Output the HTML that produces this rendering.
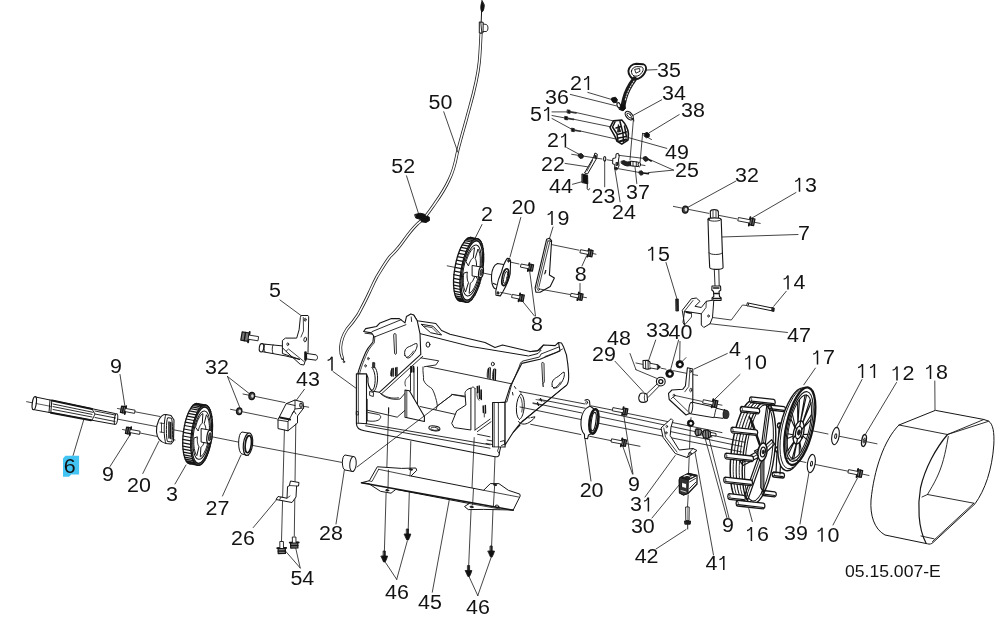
<!DOCTYPE html>
<html><head><meta charset="utf-8"><title>Parts diagram</title>
<style>
html,body{margin:0;padding:0;background:#fff;}
svg{display:block;font-family:"Liberation Sans",sans-serif;}
svg text{fill:#111;stroke:none;}
</style></head><body>
<svg width="1007" height="629" viewBox="0 0 1007 629" fill="none" stroke="#151515" stroke-width="0.9" stroke-linecap="round" stroke-linejoin="round">
<rect x="0" y="0" width="1007" height="629" fill="#fff" stroke="none"/>
<g id="labels" stroke="#fff" stroke-width="0.35" opacity="0.99">
<path d="M65.3,455.8 L79.1,455.8 L79.1,474.6 L71.3,474.6 L69,476.8 L63,476.8 L63,458.4 Z" fill="#41c4f3" stroke="none"/>
<text x="389.64" y="108.75" font-size="19.5" transform="scale(1.1,1)">5</text>
<text x="400.45" y="108.75" font-size="19.5" transform="scale(1.1,1)">0</text>
<text x="355.73" y="173.20" font-size="19.5" transform="scale(1.1,1)">5</text>
<text x="366.55" y="173.20" font-size="19.5" transform="scale(1.1,1)">2</text>
<text x="597.36" y="77.00" font-size="19.5" transform="scale(1.1,1)">3</text>
<text x="608.18" y="77.00" font-size="19.5" transform="scale(1.1,1)">5</text>
<text x="518.27" y="90.00" font-size="19.5" transform="scale(1.1,1)">2</text>
<path d="M588.40,90.00 L588.40,76.10" stroke="#111" stroke-width="1.5" stroke-linecap="butt" fill="none"/>
<path d="M584.00,79.70 C586.00,79.40 587.40,78.00 588.10,76.10" stroke="#111" stroke-width="1.25" stroke-linecap="butt" fill="none"/>
<text x="495.55" y="103.75" font-size="19.5" transform="scale(1.1,1)">3</text>
<text x="506.36" y="103.75" font-size="19.5" transform="scale(1.1,1)">6</text>
<text x="601.91" y="100.00" font-size="19.5" transform="scale(1.1,1)">3</text>
<text x="612.73" y="100.00" font-size="19.5" transform="scale(1.1,1)">4</text>
<text x="481.91" y="121.00" font-size="19.5" transform="scale(1.1,1)">5</text>
<path d="M548.40,121.00 L548.40,107.10" stroke="#111" stroke-width="1.5" stroke-linecap="butt" fill="none"/>
<path d="M544.00,110.70 C546.00,110.40 547.40,109.00 548.10,107.10" stroke="#111" stroke-width="1.25" stroke-linecap="butt" fill="none"/>
<text x="619.18" y="117.50" font-size="19.5" transform="scale(1.1,1)">3</text>
<text x="630.00" y="117.50" font-size="19.5" transform="scale(1.1,1)">8</text>
<text x="497.36" y="147.50" font-size="19.5" transform="scale(1.1,1)">2</text>
<path d="M565.40,147.50 L565.40,133.60" stroke="#111" stroke-width="1.5" stroke-linecap="butt" fill="none"/>
<path d="M561.00,137.20 C563.00,136.90 564.40,135.50 565.10,133.60" stroke="#111" stroke-width="1.25" stroke-linecap="butt" fill="none"/>
<text x="604.64" y="158.75" font-size="19.5" transform="scale(1.1,1)">4</text>
<text x="615.45" y="158.75" font-size="19.5" transform="scale(1.1,1)">9</text>
<text x="491.91" y="171.00" font-size="19.5" transform="scale(1.1,1)">2</text>
<text x="502.73" y="171.00" font-size="19.5" transform="scale(1.1,1)">2</text>
<text x="613.73" y="176.75" font-size="19.5" transform="scale(1.1,1)">2</text>
<text x="624.55" y="176.75" font-size="19.5" transform="scale(1.1,1)">5</text>
<text x="499.18" y="193.00" font-size="19.5" transform="scale(1.1,1)">4</text>
<text x="510.00" y="193.00" font-size="19.5" transform="scale(1.1,1)">4</text>
<text x="537.82" y="203.00" font-size="19.5" transform="scale(1.1,1)">2</text>
<text x="548.64" y="203.00" font-size="19.5" transform="scale(1.1,1)">3</text>
<text x="569.18" y="198.75" font-size="19.5" transform="scale(1.1,1)">3</text>
<text x="580.00" y="198.75" font-size="19.5" transform="scale(1.1,1)">7</text>
<text x="556.45" y="218.75" font-size="19.5" transform="scale(1.1,1)">2</text>
<text x="567.27" y="218.75" font-size="19.5" transform="scale(1.1,1)">4</text>
<text x="668.27" y="182.50" font-size="19.5" transform="scale(1.1,1)">3</text>
<text x="679.09" y="182.50" font-size="19.5" transform="scale(1.1,1)">2</text>
<path d="M799.50,191.75 L799.50,177.85" stroke="#111" stroke-width="1.5" stroke-linecap="butt" fill="none"/>
<path d="M795.10,181.45 C797.10,181.15 798.50,179.75 799.20,177.85" stroke="#111" stroke-width="1.25" stroke-linecap="butt" fill="none"/>
<text x="731.82" y="191.75" font-size="19.5" transform="scale(1.1,1)">3</text>
<text x="437.36" y="221.00" font-size="19.5" transform="scale(1.1,1)">2</text>
<text x="465.09" y="214.00" font-size="19.5" transform="scale(1.1,1)">2</text>
<text x="475.91" y="214.00" font-size="19.5" transform="scale(1.1,1)">0</text>
<path d="M552.00,225.00 L552.00,211.10" stroke="#111" stroke-width="1.5" stroke-linecap="butt" fill="none"/>
<path d="M547.60,214.70 C549.60,214.40 551.00,213.00 551.70,211.10" stroke="#111" stroke-width="1.25" stroke-linecap="butt" fill="none"/>
<text x="506.82" y="225.00" font-size="19.5" transform="scale(1.1,1)">9</text>
<text x="725.55" y="240.50" font-size="19.5" transform="scale(1.1,1)">7</text>
<path d="M652.50,260.75 L652.50,246.85" stroke="#111" stroke-width="1.5" stroke-linecap="butt" fill="none"/>
<path d="M648.10,250.45 C650.10,250.15 651.50,248.75 652.20,246.85" stroke="#111" stroke-width="1.25" stroke-linecap="butt" fill="none"/>
<text x="598.18" y="260.75" font-size="19.5" transform="scale(1.1,1)">5</text>
<text x="522.59" y="281.00" font-size="19.5" transform="scale(1.1,1)">8</text>
<path d="M788.00,289.50 L788.00,275.60" stroke="#111" stroke-width="1.5" stroke-linecap="butt" fill="none"/>
<path d="M783.60,279.20 C785.60,278.90 787.00,277.50 787.70,275.60" stroke="#111" stroke-width="1.25" stroke-linecap="butt" fill="none"/>
<text x="721.36" y="289.50" font-size="19.5" transform="scale(1.1,1)">4</text>
<text x="244.64" y="297.50" font-size="19.5" transform="scale(1.1,1)">5</text>
<text x="482.82" y="331.00" font-size="19.5" transform="scale(1.1,1)">8</text>
<text x="551.91" y="345.50" font-size="19.5" transform="scale(1.1,1)">4</text>
<text x="562.73" y="345.50" font-size="19.5" transform="scale(1.1,1)">8</text>
<text x="587.36" y="337.50" font-size="19.5" transform="scale(1.1,1)">3</text>
<text x="598.18" y="337.50" font-size="19.5" transform="scale(1.1,1)">3</text>
<text x="607.82" y="338.75" font-size="19.5" transform="scale(1.1,1)">4</text>
<text x="618.64" y="338.75" font-size="19.5" transform="scale(1.1,1)">0</text>
<text x="715.55" y="341.75" font-size="19.5" transform="scale(1.1,1)">4</text>
<text x="726.36" y="341.75" font-size="19.5" transform="scale(1.1,1)">7</text>
<text x="538.27" y="360.75" font-size="19.5" transform="scale(1.1,1)">2</text>
<text x="549.09" y="360.75" font-size="19.5" transform="scale(1.1,1)">9</text>
<text x="662.82" y="356.00" font-size="19.5" transform="scale(1.1,1)">4</text>
<path d="M749.50,369.50 L749.50,355.60" stroke="#111" stroke-width="1.5" stroke-linecap="butt" fill="none"/>
<path d="M745.10,359.20 C747.10,358.90 748.50,357.50 749.20,355.60" stroke="#111" stroke-width="1.25" stroke-linecap="butt" fill="none"/>
<text x="686.36" y="369.50" font-size="19.5" transform="scale(1.1,1)">0</text>
<path d="M817.50,364.50 L817.50,350.60" stroke="#111" stroke-width="1.5" stroke-linecap="butt" fill="none"/>
<path d="M813.10,354.20 C815.10,353.90 816.50,352.50 817.20,350.60" stroke="#111" stroke-width="1.25" stroke-linecap="butt" fill="none"/>
<text x="748.18" y="364.50" font-size="19.5" transform="scale(1.1,1)">7</text>
<text x="100.09" y="372.70" font-size="19.5" transform="scale(1.1,1)">9</text>
<text x="186.45" y="373.75" font-size="19.5" transform="scale(1.1,1)">3</text>
<text x="197.27" y="373.75" font-size="19.5" transform="scale(1.1,1)">2</text>
<path d="M332.00,370.75 L332.00,356.85" stroke="#111" stroke-width="1.5" stroke-linecap="butt" fill="none"/>
<path d="M327.60,360.45 C329.60,360.15 331.00,358.75 331.70,356.85" stroke="#111" stroke-width="1.25" stroke-linecap="butt" fill="none"/>
<text x="269.18" y="386.25" font-size="19.5" transform="scale(1.1,1)">4</text>
<text x="280.00" y="386.25" font-size="19.5" transform="scale(1.1,1)">3</text>
<path d="M862.50,378.00 L862.50,364.10" stroke="#111" stroke-width="1.5" stroke-linecap="butt" fill="none"/>
<path d="M858.10,367.70 C860.10,367.40 861.50,366.00 862.20,364.10" stroke="#111" stroke-width="1.25" stroke-linecap="butt" fill="none"/>
<path d="M874.40,378.00 L874.40,364.10" stroke="#111" stroke-width="1.5" stroke-linecap="butt" fill="none"/>
<path d="M870.00,367.70 C872.00,367.40 873.40,366.00 874.10,364.10" stroke="#111" stroke-width="1.25" stroke-linecap="butt" fill="none"/>
<path d="M897.00,380.50 L897.00,366.60" stroke="#111" stroke-width="1.5" stroke-linecap="butt" fill="none"/>
<path d="M892.60,370.20 C894.60,369.90 896.00,368.50 896.70,366.60" stroke="#111" stroke-width="1.25" stroke-linecap="butt" fill="none"/>
<text x="820.45" y="380.50" font-size="19.5" transform="scale(1.1,1)">2</text>
<path d="M930.50,379.00 L930.50,365.10" stroke="#111" stroke-width="1.5" stroke-linecap="butt" fill="none"/>
<path d="M926.10,368.70 C928.10,368.40 929.50,367.00 930.20,365.10" stroke="#111" stroke-width="1.25" stroke-linecap="butt" fill="none"/>
<text x="850.91" y="379.00" font-size="19.5" transform="scale(1.1,1)">8</text>
<text x="92.82" y="481.25" font-size="19.5" transform="scale(1.1,1)">9</text>
<text x="115.55" y="492.00" font-size="19.5" transform="scale(1.1,1)">2</text>
<text x="126.36" y="492.00" font-size="19.5" transform="scale(1.1,1)">0</text>
<text x="151.00" y="500.75" font-size="19.5" transform="scale(1.1,1)">3</text>
<text x="186.91" y="515.00" font-size="19.5" transform="scale(1.1,1)">2</text>
<text x="197.73" y="515.00" font-size="19.5" transform="scale(1.1,1)">7</text>
<text x="210.09" y="545.00" font-size="19.5" transform="scale(1.1,1)">2</text>
<text x="220.91" y="545.00" font-size="19.5" transform="scale(1.1,1)">6</text>
<text x="290.09" y="540.40" font-size="19.5" transform="scale(1.1,1)">2</text>
<text x="300.91" y="540.40" font-size="19.5" transform="scale(1.1,1)">8</text>
<text x="264.00" y="585.30" font-size="19.5" transform="scale(1.1,1)">5</text>
<text x="274.82" y="585.30" font-size="19.5" transform="scale(1.1,1)">4</text>
<text x="350.09" y="598.75" font-size="19.5" transform="scale(1.1,1)">4</text>
<text x="360.91" y="598.75" font-size="19.5" transform="scale(1.1,1)">6</text>
<text x="380.09" y="609.30" font-size="19.5" transform="scale(1.1,1)">4</text>
<text x="390.91" y="609.30" font-size="19.5" transform="scale(1.1,1)">5</text>
<text x="423.73" y="614.40" font-size="19.5" transform="scale(1.1,1)">4</text>
<text x="434.55" y="614.40" font-size="19.5" transform="scale(1.1,1)">6</text>
<text x="527.00" y="497.00" font-size="19.5" transform="scale(1.1,1)">2</text>
<text x="537.82" y="497.00" font-size="19.5" transform="scale(1.1,1)">0</text>
<text x="571.00" y="491.00" font-size="19.5" transform="scale(1.1,1)">9</text>
<text x="572.82" y="511.50" font-size="19.5" transform="scale(1.1,1)">3</text>
<path d="M648.40,511.50 L648.40,497.60" stroke="#111" stroke-width="1.5" stroke-linecap="butt" fill="none"/>
<path d="M644.00,501.20 C646.00,500.90 647.40,499.50 648.10,497.60" stroke="#111" stroke-width="1.25" stroke-linecap="butt" fill="none"/>
<text x="573.55" y="532.80" font-size="19.5" transform="scale(1.1,1)">3</text>
<text x="584.36" y="532.80" font-size="19.5" transform="scale(1.1,1)">0</text>
<text x="577.00" y="563.50" font-size="19.5" transform="scale(1.1,1)">4</text>
<text x="587.82" y="563.50" font-size="19.5" transform="scale(1.1,1)">2</text>
<text x="641.36" y="570.00" font-size="19.5" transform="scale(1.1,1)">4</text>
<path d="M723.80,570.00 L723.80,556.10" stroke="#111" stroke-width="1.5" stroke-linecap="butt" fill="none"/>
<path d="M719.40,559.70 C721.40,559.40 722.80,558.00 723.50,556.10" stroke="#111" stroke-width="1.25" stroke-linecap="butt" fill="none"/>
<text x="656.27" y="532.30" font-size="19.5" transform="scale(1.1,1)">9</text>
<path d="M751.40,541.00 L751.40,527.10" stroke="#111" stroke-width="1.5" stroke-linecap="butt" fill="none"/>
<path d="M747.00,530.70 C749.00,530.40 750.40,529.00 751.10,527.10" stroke="#111" stroke-width="1.25" stroke-linecap="butt" fill="none"/>
<text x="688.09" y="541.00" font-size="19.5" transform="scale(1.1,1)">6</text>
<text x="712.82" y="540.00" font-size="19.5" transform="scale(1.1,1)">3</text>
<text x="723.64" y="540.00" font-size="19.5" transform="scale(1.1,1)">9</text>
<path d="M822.00,541.75 L822.00,527.85" stroke="#111" stroke-width="1.5" stroke-linecap="butt" fill="none"/>
<path d="M817.60,531.45 C819.60,531.15 821.00,529.75 821.70,527.85" stroke="#111" stroke-width="1.25" stroke-linecap="butt" fill="none"/>
<text x="752.27" y="541.75" font-size="19.5" transform="scale(1.1,1)">0</text>
<text x="768.18" y="576.60" font-size="16" transform="scale(1.1,1)">05.15.007-E</text>
</g>
<g stroke="#41c4f3" stroke-width="0.35" opacity="0.99">
<text x="57.91" y="472.70" font-size="19.5" transform="scale(1.1,1)">6</text>
</g>
<g id="leaders" stroke-width="0.8">
<line x1="83.8" y1="419.6" x2="73.1" y2="455.4"/>
<line x1="120" y1="374.5" x2="125.6" y2="410.7"/>
<line x1="130" y1="435" x2="110" y2="466.5"/>
<line x1="158.75" y1="441.5" x2="142.8" y2="473.5"/>
<line x1="186" y1="465" x2="175" y2="484"/>
<line x1="241" y1="455" x2="222.5" y2="496"/>
<line x1="227.5" y1="376.5" x2="249.3" y2="393.6"/>
<line x1="227.5" y1="376.5" x2="240" y2="408"/>
<line x1="304.4" y1="389.3" x2="296.5" y2="400"/>
<line x1="253.2" y1="527.6" x2="276.3" y2="500"/>
<line x1="300.2" y1="568" x2="284.7" y2="550.2"/>
<line x1="300.2" y1="568" x2="295.4" y2="546.7"/>
<line x1="336" y1="524" x2="344.3" y2="470.3"/>
<line x1="280" y1="300" x2="301" y2="315.5"/>
</g>
<g id="leftasm">
<line x1="26.6" y1="401.7" x2="32" y2="402.7" stroke-width="0.8"/>
<line x1="117" y1="419" x2="160" y2="427.2" stroke-width="0.8"/>
<line x1="173" y1="429.7" x2="188" y2="432.5" stroke-width="0.8"/>
<line x1="213" y1="437" x2="239" y2="442.2" stroke-width="0.8"/>
<line x1="253" y1="445.5" x2="345" y2="463" stroke-width="0.8"/>
<line x1="117.5" y1="408.5" x2="160" y2="416.5" stroke-width="0.8"/>
<line x1="122.5" y1="429.5" x2="175" y2="440" stroke-width="0.8"/>
<path d="M35.5,397 L115.5,413.6 L114.9,424.4 L33.1,409.5 Z" fill="#fff" stroke-width="1.0"/>
<ellipse cx="34.3" cy="403.2" rx="2.0" ry="6.6" transform="rotate(8 34.3 403.2)" fill="#fff" stroke-width="1.2"/>
<ellipse cx="116" cy="419" rx="1.6" ry="5.4" transform="rotate(8 116 419)" fill="#fff" stroke-width="1.0"/>
<path d="M50,400 L49,412.4 M51.8,400.4 L50.8,412.8" fill="none" stroke-width="1.0"/>
<path d="M52,400.6 L92,409 M51,412.8 L91,420.2" fill="none" stroke-width="2.0"/>
<path d="M53,404 L93,412.3 M53,406.6 L92,414.4 M53,409.5 L92,417" fill="none" stroke-width="0.9"/>
<path d="M92,409 L95,414 L92,420.3 M95,411 L115,415 M95,414 L115.6,418 M95,417.5 L115,421.5" fill="none" stroke-width="0.9"/>
<line x1="36" y1="403.5" x2="51" y2="406.4" stroke-width="0.7"/>
<path d="M120.4,412.3 L124.8,413.2 L126.0,406.9 L121.6,406.1 Z" fill="#777" stroke-width="1.2"/>
<path d="M122.4,412.7 L123.6,406.4" stroke-width="1.4"/>
<path d="M124.7,414.0 L126.2,406.1" stroke-width="1.8"/>
<path d="M125.1,411.6 L134.5,413.4 L135.1,410.2 L125.7,408.5" fill="#fff" stroke-width="0.9"/>
<path d="M125.4,433.3 L129.8,434.2 L131.0,427.9 L126.6,427.1 Z" fill="#777" stroke-width="1.2"/>
<path d="M127.4,433.7 L128.6,427.4" stroke-width="1.4"/>
<path d="M129.7,435.0 L131.2,427.1" stroke-width="1.8"/>
<path d="M130.1,432.6 L139.5,434.4 L140.1,431.2 L130.7,429.5" fill="#fff" stroke-width="0.9"/>
<path d="M166,414.5 C160,414 156,424 156.5,432 C157,438 160,442 166,443.5 L171,444 L173.5,441 L174,420 L171,415.5 Z" fill="#fff" stroke-width="1.1"/>
<path d="M166,414.5 C163.5,418 163.5,440 166,443.5" fill="none" stroke-width="1.0"/>
<path d="M167.5,418 C166,420 166,439 167.5,441.5 L171.5,442 C173,440 173,421 171.5,418.5 Z" fill="#fff" stroke-width="1.0"/>
<path d="M169,422 L169,438 M170.8,422.5 L170.8,438.5" fill="none" stroke-width="1.5"/>
<path d="M160,423 L163.5,423.5 M160,432 L163.5,432.5 M161.5,423 L161.5,432" fill="none" stroke-width="0.8"/>
<ellipse cx="193.6" cy="433.7" rx="10.3" ry="30.4" transform="rotate(7 193.6 433.7)" fill="#fff" stroke-width="1.3"/>
<path d="M203.8,435.0L211.8,436.5M203.3,438.4L211.3,439.9M202.7,441.9L210.7,443.4M201.9,445.2L209.9,446.7M201.1,448.4L209.1,449.9M200.1,451.3L208.1,452.8M199.1,454.1L207.1,455.6M197.9,456.5L205.9,458.0M196.7,458.7L204.7,460.2M195.5,460.5L203.5,462.0M194.2,461.9L202.2,463.4M193.0,463.0L201.0,464.5M191.7,463.6L199.7,465.1M190.5,463.9L198.5,465.4M189.3,463.7L197.3,465.2M188.2,463.2L196.2,464.7M187.1,462.2L195.1,463.7M186.1,460.9L194.1,462.4M185.3,459.2L193.3,460.7M184.5,457.2L192.5,458.7M183.9,454.8L191.9,456.3M183.4,452.1L191.4,453.6M183.0,449.2L191.0,450.7M182.8,446.1L190.8,447.6M182.7,442.8L190.7,444.3M182.8,439.4L190.8,440.9M183.0,436.0L191.0,437.5M183.4,432.4L191.4,433.9M183.9,429.0L191.9,430.5M184.5,425.5L192.5,427.0M185.3,422.2L193.3,423.7M186.1,419.0L194.1,420.5M187.1,416.1L195.1,417.6M188.1,413.3L196.1,414.8M189.3,410.9L197.3,412.4M190.5,408.7L198.5,410.2M191.7,406.9L199.7,408.4M193.0,405.5L201.0,407.0M194.2,404.4L202.2,405.9M195.5,403.8L203.5,405.3M196.7,403.5L204.7,405.0M197.9,403.7L205.9,405.2M199.0,404.2L207.0,405.7M200.1,405.2L208.1,406.7M201.1,406.5L209.1,408.0M201.9,408.2L209.9,409.7M202.7,410.2L210.7,411.7M203.3,412.6L211.3,414.1M203.8,415.3L211.8,416.8M204.2,418.2L212.2,419.7M204.4,421.3L212.4,422.8M204.5,424.6L212.5,426.1M204.4,428.0L212.4,429.5M204.2,431.4L212.2,432.9" stroke-width="1.25"/>
<ellipse cx="201.6" cy="435.2" rx="10.3" ry="30.4" transform="rotate(7 201.6 435.2)" fill="#fff" stroke-width="1.4"/>
<path d="M210.8,436.3L211.8,436.5M210.3,439.6L211.3,439.9M209.8,442.8L210.7,443.4M209.1,445.9L209.9,446.7M208.3,448.8L209.1,449.9M207.4,451.6L208.1,452.8M206.4,454.1L207.1,455.6M205.4,456.4L205.9,458.0M204.3,458.4L204.7,460.2M203.2,460.1L203.5,462.0M202.1,461.4L202.2,463.4M200.9,462.4L201.0,464.5M199.8,463.0L199.7,465.1M198.7,463.3L198.5,465.4M197.6,463.1L197.3,465.2M196.6,462.6L196.2,464.7M195.7,461.8L195.1,463.7M194.8,460.5L194.1,462.4M194.0,458.9L193.3,460.7M193.3,457.0L192.5,458.7M192.8,454.8L191.9,456.3M192.3,452.4L191.4,453.6M192.0,449.7L191.0,450.7M191.8,446.8L190.8,447.6M191.8,443.7L190.7,444.3M191.9,440.6L190.8,440.9M192.1,437.3L191.0,437.5M192.4,434.1L191.4,433.9M192.9,430.8L191.9,430.5M193.4,427.6L192.5,427.0M194.1,424.5L193.3,423.7M194.9,421.6L194.1,420.5M195.8,418.8L195.1,417.6M196.8,416.3L196.1,414.8M197.8,414.0L197.3,412.4M198.9,412.0L198.5,410.2M200.0,410.3L199.7,408.4M201.1,409.0L201.0,407.0M202.3,408.0L202.2,405.9M203.4,407.4L203.5,405.3M204.5,407.1L204.7,405.0M205.6,407.3L205.9,405.2M206.6,407.8L207.0,405.7M207.5,408.6L208.1,406.7M208.4,409.9L209.1,408.0M209.2,411.5L209.9,409.7M209.9,413.4L210.7,411.7M210.4,415.6L211.3,414.1M210.9,418.0L211.8,416.8M211.2,420.7L212.2,419.7M211.4,423.6L212.4,422.8M211.4,426.7L212.5,426.1M211.3,429.8L212.4,429.5M211.1,433.1L212.2,432.9" stroke-width="0.9"/>
<ellipse cx="201.6" cy="435.2" rx="9.270000000000001" ry="28.272" transform="rotate(7 201.6 435.2)" stroke-width="1.2"/>
<ellipse cx="201.6" cy="435.2" rx="8.24" ry="24.32" transform="rotate(7 201.6 435.2)" stroke-width="1.0"/>
<path d="M207.6,443.5 L207.0,445.5 L206.4,447.5 L205.8,449.3 L205.0,450.9 L204.3,452.4 L203.5,453.7 L202.7,454.8 L201.9,455.7 L201.1,456.3 L200.3,456.8 L200.9,447.2 L201.3,446.9 L201.8,446.6 L202.2,446.1 L202.7,445.5 L203.1,444.8 L203.5,443.9 L203.9,443.0 L204.3,442.0 L204.6,440.9 L204.9,439.8 Z" fill="#fff" stroke-width="1.0"/>
<path d="M196.6,455.3 L196.0,454.3 L195.4,453.1 L195.0,451.8 L194.6,450.2 L194.2,448.5 L194.0,446.6 L193.8,444.6 L193.8,442.5 L193.8,440.3 L193.9,438.1 L197.3,436.8 L197.3,438.0 L197.3,439.3 L197.3,440.4 L197.4,441.5 L197.5,442.6 L197.7,443.5 L197.9,444.4 L198.2,445.2 L198.5,445.8 L198.8,446.4 Z" fill="#fff" stroke-width="1.0"/>
<path d="M195.6,426.9 L196.2,424.9 L196.8,422.9 L197.4,421.1 L198.2,419.5 L198.9,418.0 L199.7,416.7 L200.5,415.6 L201.3,414.7 L202.1,414.1 L202.9,413.6 L202.3,423.2 L201.9,423.5 L201.4,423.8 L201.0,424.3 L200.5,424.9 L200.1,425.6 L199.7,426.5 L199.3,427.4 L198.9,428.4 L198.6,429.5 L198.3,430.6 Z" fill="#fff" stroke-width="1.0"/>
<path d="M206.6,415.1 L207.2,416.1 L207.8,417.3 L208.2,418.6 L208.6,420.2 L209.0,421.9 L209.2,423.8 L209.4,425.8 L209.4,427.9 L209.4,430.1 L209.3,432.3 L205.9,433.6 L205.9,432.4 L205.9,431.1 L205.9,430.0 L205.8,428.9 L205.7,427.8 L205.5,426.9 L205.3,426.0 L205.0,425.2 L204.7,424.6 L204.4,424.0 Z" fill="#fff" stroke-width="1.0"/>
<path d="M201.5,428.6 L209.5,430.1 L209.5,443.6 L201.5,442.1 Z" fill="#fff" stroke-width="1.0"/>
<ellipse cx="209.5" cy="436.8" rx="2.6" ry="6.8" transform="rotate(7 209.5 436.8)" fill="#fff" stroke-width="1.3"/>
<ellipse cx="209.8" cy="436.8" rx="1.3" ry="4.2" transform="rotate(7 209.8 436.8)" fill="#555" stroke-width="0.8"/>
<path d="M248,433 L242,432 C237.5,433 237.5,453 242,454 L248,455.5 Z" fill="#fff" stroke-width="1.0"/>
<ellipse cx="248" cy="444.2" rx="4.6" ry="11.3" transform="rotate(7 248 444.2)" fill="#fff" stroke-width="1.2"/>
<ellipse cx="248.3" cy="444.2" rx="3.0" ry="8.6" transform="rotate(7 248.3 444.2)" fill="#fff" stroke-width="1.6"/>
<line x1="243" y1="394" x2="249" y2="395.2" stroke-width="0.8"/>
<line x1="255" y1="396.4" x2="285" y2="402.6" stroke-width="0.8"/>
<line x1="230.5" y1="409.3" x2="236" y2="410.4" stroke-width="0.8"/>
<line x1="242.5" y1="411.8" x2="277" y2="418.8" stroke-width="0.8"/>
<ellipse cx="251.8" cy="396" rx="2.9" ry="3.6" fill="#444" stroke-width="1.2" transform="rotate(8 251.8 396)"/>
<ellipse cx="252.4" cy="396" rx="1.3" ry="1.8" fill="#ddd" stroke="none"/>
<ellipse cx="239.2" cy="411.3" rx="2.7" ry="3.4" fill="#444" stroke-width="1.2" transform="rotate(8 239.2 411.3)"/>
<ellipse cx="239.79999999999998" cy="411.3" rx="1.2" ry="1.7" fill="#ddd" stroke="none"/>
<path d="M286.5,403.6 L295,400 L303,402.2 L303.7,408 L297.5,416 L297.5,423 L288,430.8 L278,428.6 L278,420 Z" fill="#fff" stroke-width="1.0"/>
<path d="M278,420 L288,421.6 L288,430.8 M288,421.6 L295,409 L295,400 M286.5,403.6 L295,405.5 M295,409 L303.7,408" fill="none" stroke-width="0.9"/>
<ellipse cx="301" cy="405.2" rx="1.2" ry="2.2" transform="rotate(0 301 405.2)" fill="#fff" stroke-width="1.2"/>
<path d="M280,417.5 L290,419.5" fill="none" stroke-width="2.2"/>
<path d="M292,414 L294,411 L296,414" fill="none" stroke-width="0.9"/>
<line x1="303.7" y1="406.3" x2="308.7" y2="407.2" stroke-width="0.8"/>
<line x1="284.4" y1="430" x2="281.5" y2="541" stroke-width="0.8"/>
<line x1="295.8" y1="424" x2="294.3" y2="536" stroke-width="0.8"/>
<path d="M289.4,485.5 L290.5,481 L299,482.5 L298.5,486 L296.6,486 L296,497 L292,502.5 L276,499.5 L278,496.5 L287,498.2 L287.5,487 Z" fill="#fff" stroke-width="1.0"/>
<path d="M289.4,485.5 L296.6,486 M287,498.2 L290,496 M281,497 L279.5,500" fill="none" stroke-width="0.8"/>
<path d="M285.4,553.4 L285.3,547.9 L278.1,548.1 L278.2,553.6 Z" fill="#777" stroke-width="1.2"/>
<path d="M285.3,551.0 L278.2,551.1" stroke-width="1.4"/>
<path d="M286.2,547.9 L277.2,548.1" stroke-width="1.8"/>
<path d="M283.5,548.0 L283.4,541.5 L279.8,541.5 L279.9,548.0" fill="#fff" stroke-width="0.9"/>
<path d="M297.9,547.9 L297.8,542.4 L290.6,542.6 L290.7,548.1 Z" fill="#777" stroke-width="1.2"/>
<path d="M297.8,545.5 L290.7,545.6" stroke-width="1.4"/>
<path d="M298.7,542.4 L289.7,542.6" stroke-width="1.8"/>
<path d="M296.0,542.5 L295.9,537.0 L292.3,537.0 L292.4,542.5" fill="#fff" stroke-width="0.9"/>
<path d="M353,456.5 L345,455 C341.5,456 341.5,469 345,470 L353,471.5 Z" fill="#fff" stroke-width="1.0"/>
<ellipse cx="353" cy="464" rx="3.2" ry="7.5" transform="rotate(5 353 464)" fill="#fff" stroke-width="1.0"/>
<path d="M301.5,315.5 L308,315.5 L308.7,316.7 L308,352.4 L303.9,365 L300.3,364.4 L286,351.3 L282.4,347.7 L282.4,340.5 L285.4,338.1 L296.7,338.1 L299.1,329.8 L300.3,317.9 Z" fill="#fff" stroke-width="1.0"/>
<path d="M303.3,317.5 L303.5,331 L301,337 M286,351.3 L288.5,349 L304,361.5" fill="none" stroke-width="0.8"/>
<ellipse cx="305.2" cy="319.7" rx="0.9" ry="1.5" transform="rotate(0 305.2 319.7)" fill="none" stroke-width="0.9"/>
<ellipse cx="305.2" cy="339.5" rx="1.3" ry="2.4" transform="rotate(10 305.2 339.5)" fill="none" stroke-width="0.9"/>
<ellipse cx="287.8" cy="344.2" rx="0.9" ry="1.4" transform="rotate(0 287.8 344.2)" fill="none" stroke-width="0.9"/>
<path d="M262.2,343.9 L282.4,345.9 L282.4,353.5 L300,359.5 L286,356 L260.4,351.3 Z" fill="#fff" stroke-width="1.0"/>
<ellipse cx="261.5" cy="347.8" rx="2.2" ry="4.2" transform="rotate(8 261.5 347.8)" fill="#fff" stroke-width="1.1"/>
<path d="M265,344.2 C263.5,346 263.8,350.5 265,352.1 M273,345 C271.8,347 272,351.5 273,353.5" fill="none" stroke-width="0.9"/>
<path d="M307,353.5 L316,354.8 C318,356 318,359 316,360.2 L307,359 Z" fill="#fff" stroke-width="1.0"/>
<path d="M305.5,352.6 L305.5,359.5" fill="none" stroke-width="2.6"/>
<path d="M240.8,340.1 L248.2,341.3 L249.6,333.0 L242.2,331.9 Z" fill="#777" stroke-width="1.2"/>
<path d="M244.2,340.7 L245.5,332.4" stroke-width="1.4"/>
<path d="M248.1,342.4 L249.7,332.0" stroke-width="1.8"/>
<path d="M248.6,339.3 L258.0,340.8 L258.6,336.6 L249.2,335.1" fill="#fff" stroke-width="0.9"/>
</g>
<g id="cable">
<path d="M481,34 C480.5,45 480,55 479.3,62 C477,85 470,105 466.5,119 C462,135 458.5,147 457,154 C455,165 453,172 449,180 C444,191 438,199 433.4,205.6 C430,210.5 427,214.5 425.4,216.5 C422,220.5 419,222.5 417.5,223.8 C408,233 404,241 398,248 C394,253 392,254.5 390,256.5 C385,263 381,270 377,276.5 C373,284 371,289 369.3,292.5 C365,302 361,309 358,314.7 C354,321 351,324.5 347,329 C343,335 341,341 340.6,347.5 C340.5,352 341.5,356 342.6,358.5" stroke-width="3.1" stroke="#222"/>
<path d="M481,34 C480.5,45 480,55 479.3,62 C477,85 470,105 466.5,119 C462,135 458.5,147 457,154 C455,165 453,172 449,180 C444,191 438,199 433.4,205.6 C430,210.5 427,214.5 425.4,216.5 C422,220.5 419,222.5 417.5,223.8 C408,233 404,241 398,248 C394,253 392,254.5 390,256.5 C385,263 381,270 377,276.5 C373,284 371,289 369.3,292.5 C365,302 361,309 358,314.7 C354,321 351,324.5 347,329 C343,335 341,341 340.6,347.5 C340.5,352 341.5,356 342.6,358.5" stroke-width="1.5" stroke="#fff"/>
<path d="M482,0 L481.2,22" fill="none" stroke-width="1.0"/>
<path d="M482.2,1.5 C480.5,4 480.3,9 481.7,12 C483,12 484.3,9 484.2,5 Z" fill="#111" stroke-width="1.0"/>
<path d="M479.7,22 L483.2,22.3 L483,33 L479.7,33 Z" fill="#fff" stroke-width="1.0"/>
<path d="M483.2,24 L486.5,24.5 C488.5,25.5 488.5,30.5 486.5,31.5 L483,31.5 M480.8,22.5 L481.8,32.5" fill="none" stroke-width="0.9"/>
<path d="M415,214.5 L420,213.2 L424.5,214.2 L425.5,216 L429.2,217 L429.5,220.5 L426,222.5 L421.5,221.8 L420.5,219.5 L416,218 Z" fill="#111" stroke-width="1.0"/>
<line x1="342.8" y1="358.5" x2="343.8" y2="361" stroke-width="0.9"/>
<ellipse cx="343.9" cy="361.8" rx="0.8" ry="0.9" transform="rotate(0 343.9 361.8)" fill="none" stroke-width="0.8"/>
<line x1="443.75" y1="111.75" x2="457.8" y2="152" stroke-width="0.8"/>
<line x1="406.5" y1="175.8" x2="418.5" y2="213.5" stroke-width="0.8"/>
</g>
<g id="frame">
<line x1="333" y1="371.5" x2="356" y2="388.2" stroke-width="0.8"/>
<path d="M413.7,315 L417.2,320.7 L435.8,323.5 L441.6,330.5 L450,334.3 L485,342.5 L495,347.5 L502.5,345 L530,351.5 L537.5,351 L543.5,345 L555.2,345.6 L558.5,342.5" fill="none" stroke-width="1.1"/>
<path d="M420,333.6 L470,346.3 L528.5,356 L538,353.5 L541,350.3" fill="none" stroke-width="1.0"/>
<path d="M421.5,324.3 L433,326.2 L441.6,335 L431,332.8 Z" fill="none" stroke-width="1.0"/>
<path d="M424.5,326.3 L432,327.6 L437.5,333" fill="none" stroke-width="0.8"/>
<path d="M421,357.9 L438.7,360.8 L435.8,365 L424.4,366.7 M427.3,366.5 L512,383.9" fill="none" stroke-width="0.9"/>
<ellipse cx="428" cy="344.6" rx="1.9" ry="2.6" transform="rotate(0 428 344.6)" fill="none" stroke-width="1.0"/>
<ellipse cx="492.8" cy="364" rx="1.5" ry="1.8" transform="rotate(0 492.8 364)" fill="none" stroke-width="0.9"/>
<path d="M488.5,368.5 L488,378 M490.3,368 L490,378.5 M493.8,369.5 L493.5,379.5 M495.6,369.3 L495.3,380" fill="none" stroke-width="1.3"/>
<path d="M487.2,377 C487,371 488,368 489.5,367.3 M492.5,378.5 C492.3,372 493.3,369 494.8,368.6" fill="none" stroke-width="0.8"/>
<path d="M363.6,331.5 L365.7,328.6 L376.5,326.5 L380,322.9 L391.5,318.6 L399.4,318.6 L405,322.9 L406.5,316.4 L410.8,313.9 L413.7,315 L417.2,320.7 L420,333.6 L420.8,354.4 L379.3,392.3 L372,391 C369,388 367.5,383 368,378 L366.5,374 L357.9,373.7 C359,368 361,363 365.7,352.2 C368,347 371,344.5 372.9,342.2 L373.6,335.8 L371.5,332.9 Z" fill="#fff" stroke-width="1.1"/>
<path d="M372.1,331.6 L401.1,319.7 M374.3,337 L405.9,324.7 M365,333.2 L371.7,334 M411.2,317 L411.6,321.5" fill="none" stroke-width="0.9"/>
<path d="M374.9,336.5 L374.3,342.8 C372,345.5 369.5,348 367.2,353 C363,362.5 361,368 359.6,373.7" fill="none" stroke-width="0.8"/>
<path d="M422.7,356.3 L381.5,393.8" fill="none" stroke-width="0.9"/>
<path d="M394.5,333.6 C395.5,333.2 396,334 396,335 L396.4,353 C396.3,354.6 395,354.8 394.6,353.4 L393.7,335.5 Z" fill="none" stroke-width="0.9"/>
<path d="M405,355.5 C403.5,351 406,347.5 409.5,346.5 C412.5,345.5 415,343 416.8,343.6 C418,346 416,350.5 413,354 C410,358 407.5,360 405,355.5 Z" fill="none" stroke-width="1.0"/>
<path d="M406.5,357.5 C409,357 411.5,354 413.5,351" fill="none" stroke-width="0.8"/>
<ellipse cx="368.3" cy="358.6" rx="0.8" ry="1.2" transform="rotate(0 368.3 358.6)" fill="none" stroke-width="0.8"/>
<ellipse cx="365.5" cy="365.8" rx="0.8" ry="1.2" transform="rotate(0 365.5 365.8)" fill="none" stroke-width="0.8"/>
<path d="M391.8,369 L391.6,376 M393.3,368.5 L393.2,376.2 M395.6,367.8 L395.5,375.8 M397,367.5 L397,375.5" fill="none" stroke-width="1.3"/>
<path d="M390.6,375.5 C390.3,371.5 391.3,369 392.5,368" fill="none" stroke-width="0.8"/>
<path d="M373.5,366 C377,368 378.5,376 377,384 C376,389 374.5,391.5 373,392 M372,367.5 C375,371 376,379 374.5,386 C374,388.5 373,390 372,390.5" fill="none" stroke-width="1.0"/>
<path d="M373,362.5 L374.8,362.8 L374.6,368 L372.8,367.5 Z" fill="#333" stroke-width="0.8"/>
<path d="M370,391.5 L373.5,392.5 L373.3,396.5 L370,395.5 Z" fill="#fff" stroke-width="0.9"/>
<path d="M356.4,373.7 L366.5,374 L366.5,423.8 L356.4,423 Z" fill="#fff" stroke-width="1.1"/>
<path d="M358.3,374 L358.3,423.2" fill="none" stroke-width="0.8"/>
<path d="M356.6,411.5 L358.3,411.7 L358.3,415 L356.6,414.8 Z" fill="none" stroke-width="0.8"/>
<path d="M356.4,423 C356.3,427 358,429.8 364.3,430.8 L495,456.8 C498,457 499.8,456 499.3,453 L501,445.5 L513.5,431.8 L520,425" fill="none" stroke-width="1.1"/>
<path d="M365.7,423.6 L490,444.8 M365.7,425.8 L490,448.2" fill="none" stroke-width="0.9"/>
<path d="M499.3,453.5 L497.5,451 L499,447" fill="none" stroke-width="0.8"/>
<ellipse cx="434.4" cy="428.4" rx="5.6" ry="2.4" transform="rotate(8 434.4 428.4)" fill="none" stroke-width="1.0"/>
<ellipse cx="434.6" cy="428.8" rx="3.8" ry="1.5" transform="rotate(8 434.6 428.8)" fill="none" stroke-width="0.8"/>
<path d="M367.2,399.3 L367.2,420.8 M366.5,410 L397.2,417.2 L404.8,410.5" fill="none" stroke-width="0.9"/>
<path d="M368,412.5 L378.5,414.5 C381.5,415.5 381.5,418.5 378,420.3 C375,421.5 371,421.5 367.2,420.8" fill="none" stroke-width="0.9"/>
<path d="M379.5,392.5 C383,397 392,400.5 400,399 L404.8,393.5 M381.5,393.8 C385,397 392,399 398.5,397.8" fill="none" stroke-width="0.9"/>
<line x1="388.6" y1="408" x2="388.6" y2="413" stroke-width="0.8"/>
<path d="M405,390 L409.4,390.7 L424.4,416.5 L424.4,421.5 L405,417.2 Z" fill="#fff" stroke-width="1.1"/>
<path d="M406.8,390.4 L406.8,417.5" fill="none" stroke-width="0.8"/>
<path d="M410.5,366.5 L410.5,391 M417.5,367 L417.5,404 M414,368 L414,398" fill="none" stroke-width="0.9"/>
<path d="M411.5,366.5 L411.5,372 M413.5,366.5 L413.5,372" fill="none" stroke-width="1.6"/>
<path d="M405.5,386 C404,382 405.5,378.5 408.5,377 L410.3,374" fill="none" stroke-width="0.8"/>
<path d="M423,367 C422.5,372 424,377 423.5,380 C425,384 428,386 430.5,387.5 C433,389 433,391 434.5,394 C436,399 437,402 437.3,405.8 L435.8,410 L420,406.5" fill="none" stroke-width="0.9"/>
<path d="M437.5,405.8 L452.5,394.5 L466.3,396.3 M435.8,410 L465,416.5" fill="none" stroke-width="0.9"/>
<path d="M451.6,394.3 L470,397.9" fill="none" stroke-width="0.9"/>
<path d="M470,388.3 C466.5,389.5 465,391.5 465,393.4 L465.9,405 L456.7,410.9 L451.7,423.4 L454.2,427.6 L470.9,430 L470.9,388.5 Z" fill="#fff" stroke-width="1.0"/>
<path d="M475,388.5 L475,430 M470.9,388.5 C472,386.5 474,386.5 475,388.5" fill="none" stroke-width="0.9"/>
<path d="M477.3,386.5 L477.6,392.5 M479.2,386 L479.6,398.5 M481.2,390 L481.3,399.5" fill="none" stroke-width="1.5"/>
<path d="M483.2,406 L483.4,412.5 M485.3,405.5 L485.5,413" fill="none" stroke-width="1.5"/>
<path d="M477,392 C476.8,396.5 477.5,399 479,400.3 M484.3,413 L484.3,417" fill="none" stroke-width="0.8"/>
<path d="M475,430 L490,419.2 M477.6,434.3 L490,436.8 M477.3,431.6 L491,421.8" fill="none" stroke-width="0.9"/>
<path d="M492.6,402.5 L505.1,402.5 L505.1,447 L492.6,446.8 Z" fill="#fff" stroke-width="1.1"/>
<path d="M498.4,403 L498.4,447 M494.2,403 L494.2,446.8" fill="none" stroke-width="0.8"/>
<path d="M487,440 L492.5,441 M486,443.5 L492.5,444.5 M500.5,441.5 L504.5,440.5 L505,444 L501.5,445.5" fill="none" stroke-width="0.9"/>
<path d="M506.2,413.4 L509.3,412.6 L509.3,427.8 L506.2,428.6 Z M506.5,420.5 L509.3,419.8" fill="none" stroke-width="0.9"/>
<path d="M558.5,342.5 L561.5,343 L563.5,346.7 C566,352 567.5,358 567.7,363.4 C568.5,370 569,376 568.5,380 C568,384 566.5,386 564.4,386.8 L520,423.5 L513.5,431.8 L505.1,445 L505.1,402.2 L510,386.8 L518.5,370 L521.8,363.4 L540,359.2 L560,350.9 Z" fill="#fff" stroke-width="1.1"/>
<path d="M543.5,345 L540,350 L530,351.7 M558.8,347 L541,354 L539.5,357 L523,361 C520.5,362 520,364 519.5,366 L511.5,385 L506.8,402 L498,402.6" fill="none" stroke-width="0.9"/>
<path d="M562.5,349 L556,352.5 L545,356.5" fill="none" stroke-width="0.8"/>
<path d="M542.3,362.5 C543.3,362.2 544,363 544,364 L544.3,381 C544.2,383.5 543,383.5 542.7,382 L541.8,364 Z" fill="none" stroke-width="0.9"/>
<path d="M542.8,383 L543.2,386.5" fill="none" stroke-width="1.2"/>
<path d="M552.3,386.5 C551,382 553.5,379 556.5,377.5 C559.5,376 562,372.5 564,372 C565.2,375 563.5,380 560.5,384 C557.5,388 554.5,389.5 552.3,386.5 Z" fill="none" stroke-width="1.0"/>
<path d="M553.5,388.3 C556,388 558.5,385 560.5,382" fill="none" stroke-width="0.8"/>
<path d="M566.5,385.3 L522,421.5" fill="none" stroke-width="0.9"/>
<path d="M521,394 C524,396 525,403 523.8,410 C523,415 521.5,418.5 519.5,419.5 M519.5,395.5 C517,399 516,406 516.5,412 C517,416 518,418.5 519.5,419.5 M519.5,395.5 C520,394.5 520.5,394 521,394" fill="none" stroke-width="1.0"/>
<path d="M520.5,397 C522.5,400 522.8,407 521.8,412" fill="none" stroke-width="0.8"/>
<path d="M514.5,386.5 L515.8,388.5 M512.5,392.5 L513,395 M519.5,391 L521,392.5" fill="none" stroke-width="1.0"/>
<path d="M540.5,398.5 L541.5,401 M537.5,402.5 L538.5,405.5" fill="none" stroke-width="1.2"/>
<path d="M536,399.5 L545,401.3 M533,403.5 L542,405.3" fill="none" stroke-width="0.7"/>
<path d="M518.5,421.5 C520,424.5 525,425 529,422.5 C532,420.5 534.5,418.5 535,416.8 L531,417.5" fill="none" stroke-width="1.0"/>
<path d="M522,421.5 L527,417.5 L529.5,418" fill="none" stroke-width="0.8"/>
</g>
<g id="axle">
<line x1="520" y1="391.6" x2="585" y2="404" stroke-width="0.85"/>
<line x1="591.5" y1="405.9" x2="612" y2="410" stroke-width="0.85"/>
<line x1="627" y1="413.3" x2="722" y2="432.6" stroke-width="0.85"/>
<line x1="539" y1="399.3" x2="585" y2="408.2" stroke-width="0.85"/>
<line x1="597.5" y1="410.6" x2="745" y2="442.3" stroke-width="0.85"/>
<line x1="533" y1="402.9" x2="582" y2="413" stroke-width="0.85"/>
<line x1="598.7" y1="416.6" x2="742" y2="446.5" stroke-width="0.85"/>
<line x1="520" y1="407" x2="581.4" y2="419.6" stroke-width="0.85"/>
<line x1="598" y1="423.1" x2="742" y2="452" stroke-width="0.85"/>
<line x1="530.7" y1="424.3" x2="580.8" y2="434.5" stroke-width="0.85"/>
<line x1="589.7" y1="436.3" x2="611" y2="440.6" stroke-width="0.85"/>
<line x1="626" y1="443.6" x2="640" y2="446.3" stroke-width="0.85"/>
<path d="M585,400.3 C586.5,399.3 588.5,399.5 589.5,401 L590,406 C585,408 581.5,414 581,421 C580.6,427 582,432 584.5,434.5 L584.6,438.2 L587.5,438.8 L588.5,435 L593,433 L594,409 L590,406" fill="#fff" stroke-width="1.1"/>
<ellipse cx="586.7" cy="402.5" rx="0.9" ry="1.5" transform="rotate(0 586.7 402.5)" fill="none" stroke-width="0.8"/>
<ellipse cx="593.9" cy="421.4" rx="4.3" ry="12.3" transform="rotate(8 593.9 421.4)" fill="#fff" stroke-width="2.6"/>
<ellipse cx="593.6" cy="421.6" rx="2.3" ry="9.3" transform="rotate(8 593.6 421.6)" fill="#fff" stroke-width="1.2"/>
<path d="M627.9,408.9 L623.5,408.0 L622.3,414.3 L626.7,415.1 Z" fill="#777" stroke-width="1.2"/>
<path d="M625.9,408.5 L624.7,414.8" stroke-width="1.4"/>
<path d="M623.6,407.2 L622.1,415.1" stroke-width="1.8"/>
<path d="M623.2,409.6 L612.9,407.6 L612.3,410.8 L622.6,412.7" fill="#fff" stroke-width="0.9"/>
<path d="M626.6,440.1 L622.2,439.2 L621.0,445.5 L625.4,446.3 Z" fill="#777" stroke-width="1.2"/>
<path d="M624.6,439.7 L623.4,446.0" stroke-width="1.4"/>
<path d="M622.3,438.4 L620.8,446.3" stroke-width="1.8"/>
<path d="M621.9,440.8 L611.6,438.8 L611.0,442.0 L621.3,443.9" fill="#fff" stroke-width="0.9"/>
<line x1="623.7" y1="414.8" x2="633" y2="474" stroke-width="0.8"/>
<line x1="622.5" y1="445.5" x2="632.5" y2="474" stroke-width="0.8"/>
<line x1="585" y1="438.6" x2="591" y2="481" stroke-width="0.8"/>
</g>
<g id="plate">
<line x1="388.6" y1="408" x2="388.6" y2="413" stroke-width="0.8"/>
<line x1="388.6" y1="408" x2="384.4" y2="551" stroke-width="0.8"/>
<line x1="410.8" y1="441.5" x2="408.2" y2="530" stroke-width="0.8"/>
<line x1="474.2" y1="437.6" x2="468.7" y2="565" stroke-width="0.8"/>
<line x1="495" y1="456.8" x2="491.6" y2="546" stroke-width="0.8"/>
<path d="M377.7,466.8 L401.5,468.4 L415.8,468 L416.8,470.3 L411,476 L483.6,490.3 L490.3,483.6 L498.9,483.6 L508.4,490.3 L519.8,494.1 L520.2,496 L513.2,510 L483.6,509.4 L468.3,509.6 L464.5,506.5 L469.3,503.5 L395.8,489.4 L391,493.2 L380.5,491.3 L369,483.8 L361.5,482.7 L369,480.8 Z" fill="#fff" stroke-width="1.0"/>
<path d="M361.5,482.7 L513.2,510.2" fill="none" stroke-width="1.6"/>
<path d="M369,480.8 L372,481.5 L378.6,469.3 M378.6,469.3 L411,476 M483.6,490.3 L518.5,497" fill="none" stroke-width="0.8"/>
<path d="M469.3,503.5 L500,509" fill="none" stroke-width="0.8"/>
<ellipse cx="387.2" cy="490.3" rx="1.6" ry="0.8" transform="rotate(10 387.2 490.3)" fill="#222" stroke-width="0.8"/>
<ellipse cx="410.8" cy="469.5" rx="1.6" ry="0.8" transform="rotate(10 410.8 469.5)" fill="#222" stroke-width="0.8"/>
<ellipse cx="471.6" cy="506.9" rx="1.6" ry="0.8" transform="rotate(10 471.6 506.9)" fill="#222" stroke-width="0.8"/>
<ellipse cx="495" cy="484.8" rx="1.6" ry="0.8" transform="rotate(10 495 484.8)" fill="#222" stroke-width="0.8"/>
<ellipse cx="497" cy="506.3" rx="1.8" ry="1.2" transform="rotate(10 497 506.3)" fill="none" stroke-width="0.9"/>
<line x1="388.4" y1="470" x2="388.0" y2="489" stroke-width="0.8"/>
<line x1="410.5" y1="471" x2="409.9" y2="476" stroke-width="0.8"/>
<line x1="473.5" y1="488.5" x2="472.6" y2="505" stroke-width="0.8"/>
<line x1="494.6" y1="486" x2="493.4" y2="506" stroke-width="0.8"/>
<path d="M383.5,551 L385.29999999999995,551 L385.29999999999995,556 L383.5,556 Z" fill="#222" stroke-width="0.8"/>
<path d="M381.2,556 L387.59999999999997,556 L386.59999999999997,559 L385.2,562 L383.59999999999997,562 L382.2,559 Z" fill="#111" stroke-width="0.8"/>
<path d="M406.70000000000005,529 L408.5,529 L408.5,534 L406.70000000000005,534 Z" fill="#222" stroke-width="0.8"/>
<path d="M404.40000000000003,534 L410.8,534 L409.8,537 L408.40000000000003,540 L406.8,540 L405.40000000000003,537 Z" fill="#111" stroke-width="0.8"/>
<path d="M467.8,565.5 L469.59999999999997,565.5 L469.59999999999997,570.5 L467.8,570.5 Z" fill="#222" stroke-width="0.8"/>
<path d="M465.5,570.5 L471.9,570.5 L470.9,573.5 L469.5,576.5 L467.9,576.5 L466.5,573.5 Z" fill="#111" stroke-width="0.8"/>
<path d="M490.40000000000003,546 L492.2,546 L492.2,551 L490.40000000000003,551 Z" fill="#222" stroke-width="0.8"/>
<path d="M488.1,551 L494.5,551 L493.5,554 L492.1,557 L490.5,557 L489.1,554 Z" fill="#111" stroke-width="0.8"/>
<line x1="396.7" y1="579.4" x2="385.5" y2="562.5" stroke-width="0.8"/>
<line x1="396.7" y1="579.4" x2="407.3" y2="541" stroke-width="0.8"/>
<line x1="449.3" y1="499.8" x2="432.3" y2="592.2" stroke-width="0.8"/>
<line x1="477.8" y1="595.6" x2="469.2" y2="577" stroke-width="0.8"/>
<line x1="477.8" y1="595.6" x2="491.1" y2="557.5" stroke-width="0.8"/>
<line x1="357" y1="467" x2="452.5" y2="394.5" stroke-width="0.8"/>
</g>
<g id="gear2">
<line x1="447.2" y1="265.8" x2="454" y2="267.2" stroke-width="0.8"/>
<line x1="483" y1="273" x2="492" y2="274.9" stroke-width="0.8"/>
<ellipse cx="465.40000000000003" cy="269.2" rx="10.6" ry="32.3" transform="rotate(10 465.40000000000003 269.2)" fill="#fff" stroke-width="1.3"/>
<path d="M475.8,271.0L482.2,272.3M475.1,274.7L481.5,276.0M474.3,278.3L480.7,279.6M473.3,281.8L479.7,283.1M472.2,285.1L478.6,286.4M471.0,288.2L477.4,289.5M469.8,291.1L476.2,292.4M468.5,293.6L474.9,294.9M467.1,295.8L473.5,297.1M465.8,297.7L472.2,299.0M464.4,299.1L470.8,300.4M463.0,300.2L469.4,301.5M461.7,300.8L468.1,302.1M460.4,301.1L466.8,302.4M459.2,300.8L465.6,302.1M458.1,300.2L464.5,301.5M457.0,299.1L463.4,300.4M456.1,297.7L462.5,299.0M455.3,295.8L461.7,297.1M454.7,293.6L461.1,294.9M454.2,291.1L460.6,292.4M453.8,288.2L460.2,289.5M453.6,285.1L460.0,286.4M453.6,281.8L460.0,283.1M453.7,278.3L460.1,279.6M453.9,274.7L460.3,276.0M454.4,271.1L460.8,272.4M455.0,267.4L461.4,268.7M455.7,263.7L462.1,265.0M456.5,260.1L462.9,261.4M457.5,256.6L463.9,257.9M458.6,253.3L465.0,254.6M459.8,250.2L466.2,251.5M461.0,247.3L467.4,248.6M462.3,244.8L468.7,246.1M463.7,242.6L470.1,243.9M465.0,240.7L471.4,242.0M466.4,239.3L472.8,240.6M467.8,238.2L474.2,239.5M469.1,237.6L475.5,238.9M470.4,237.3L476.8,238.6M471.6,237.6L478.0,238.9M472.7,238.2L479.1,239.5M473.8,239.3L480.2,240.6M474.7,240.7L481.1,242.0M475.5,242.6L481.9,243.9M476.1,244.8L482.5,246.1M476.6,247.3L483.0,248.6M477.0,250.2L483.4,251.5M477.2,253.3L483.6,254.6M477.2,256.6L483.6,257.9M477.1,260.1L483.5,261.4M476.9,263.7L483.3,265.0M476.4,267.3L482.8,268.6" stroke-width="1.25"/>
<ellipse cx="471.8" cy="270.5" rx="10.6" ry="32.3" transform="rotate(10 471.8 270.5)" fill="#fff" stroke-width="1.4"/>
<path d="M481.2,272.2L482.2,272.3M480.5,275.6L481.5,276.0M479.7,278.9L480.7,279.6M478.8,282.2L479.7,283.1M477.9,285.3L478.6,286.4M476.8,288.1L477.4,289.5M475.6,290.8L476.2,292.4M474.5,293.2L474.9,294.9M473.2,295.2L473.5,297.1M472.0,296.9L472.2,299.0M470.7,298.3L470.8,300.4M469.5,299.3L469.4,301.5M468.3,299.9L468.1,302.1M467.1,300.1L466.8,302.4M466.0,299.9L465.6,302.1M465.0,299.3L464.5,301.5M464.1,298.4L463.4,300.4M463.3,297.0L462.5,299.0M462.6,295.3L461.7,297.1M462.0,293.2L461.1,294.9M461.6,290.9L460.6,292.4M461.3,288.2L460.2,289.5M461.1,285.4L460.0,286.4M461.1,282.3L460.0,283.1M461.2,279.1L460.1,279.6M461.5,275.7L460.3,276.0M461.9,272.3L460.8,272.4M462.4,268.8L461.4,268.7M463.1,265.4L462.1,265.0M463.9,262.1L462.9,261.4M464.8,258.8L463.9,257.9M465.7,255.7L465.0,254.6M466.8,252.9L466.2,251.5M468.0,250.2L467.4,248.6M469.1,247.8L468.7,246.1M470.4,245.8L470.1,243.9M471.6,244.1L471.4,242.0M472.9,242.7L472.8,240.6M474.1,241.7L474.2,239.5M475.3,241.1L475.5,238.9M476.5,240.9L476.8,238.6M477.6,241.1L478.0,238.9M478.6,241.7L479.1,239.5M479.5,242.6L480.2,240.6M480.3,244.0L481.1,242.0M481.0,245.7L481.9,243.9M481.6,247.8L482.5,246.1M482.0,250.1L483.0,248.6M482.3,252.8L483.4,251.5M482.5,255.6L483.6,254.6M482.5,258.7L483.6,257.9M482.4,261.9L483.5,261.4M482.1,265.3L483.3,265.0M481.7,268.7L482.8,268.6" stroke-width="0.9"/>
<ellipse cx="471.8" cy="270.5" rx="9.54" ry="30.038999999999998" transform="rotate(10 471.8 270.5)" stroke-width="1.2"/>
<ellipse cx="471.8" cy="270.5" rx="8.48" ry="25.84" transform="rotate(10 471.8 270.5)" stroke-width="1.0"/>
<path d="M477.5,279.6 L476.8,281.7 L476.0,283.8 L475.2,285.6 L474.4,287.4 L473.5,288.9 L472.7,290.2 L471.8,291.3 L470.9,292.2 L470.0,292.9 L469.1,293.3 L470.3,283.2 L470.8,282.9 L471.3,282.6 L471.8,282.1 L472.3,281.5 L472.8,280.7 L473.2,279.9 L473.7,278.9 L474.2,277.9 L474.6,276.7 L475.0,275.5 Z" fill="#fff" stroke-width="1.0"/>
<path d="M465.4,291.6 L464.9,290.5 L464.4,289.2 L464.0,287.7 L463.7,286.1 L463.4,284.2 L463.3,282.2 L463.3,280.1 L463.3,277.9 L463.5,275.5 L463.7,273.2 L467.3,272.0 L467.2,273.3 L467.1,274.6 L467.1,275.8 L467.1,277.0 L467.2,278.1 L467.3,279.1 L467.5,280.1 L467.7,280.9 L468.0,281.6 L468.3,282.2 Z" fill="#fff" stroke-width="1.0"/>
<path d="M466.1,261.4 L466.8,259.3 L467.6,257.2 L468.4,255.4 L469.2,253.6 L470.1,252.1 L470.9,250.8 L471.8,249.7 L472.7,248.8 L473.6,248.1 L474.5,247.7 L473.3,257.8 L472.8,258.1 L472.3,258.4 L471.8,258.9 L471.3,259.5 L470.8,260.3 L470.4,261.1 L469.9,262.1 L469.4,263.1 L469.0,264.3 L468.6,265.5 Z" fill="#fff" stroke-width="1.0"/>
<path d="M478.2,249.4 L478.7,250.5 L479.2,251.8 L479.6,253.3 L479.9,254.9 L480.2,256.8 L480.3,258.8 L480.3,260.9 L480.3,263.1 L480.1,265.5 L479.9,267.8 L476.3,269.0 L476.4,267.7 L476.5,266.4 L476.5,265.2 L476.5,264.0 L476.4,262.9 L476.3,261.9 L476.1,260.9 L475.9,260.1 L475.6,259.4 L475.3,258.8 Z" fill="#fff" stroke-width="1.0"/>
<path d="M472.5,265.5 L481,267 L481,277.5 L472.5,276 Z" fill="#fff" stroke-width="1.0"/>
<ellipse cx="481" cy="272.3" rx="2.3" ry="5.5" transform="rotate(8 481 272.3)" fill="#fff" stroke-width="1.3"/>
<ellipse cx="481.3" cy="272.3" rx="1.1" ry="3.4" transform="rotate(8 481.3 272.3)" fill="#666" stroke-width="0.8"/>
<line x1="482" y1="224.5" x2="475" y2="238.4" stroke-width="0.8"/>
<line x1="520.8" y1="217.5" x2="510" y2="257" stroke-width="0.8"/>
<path d="M497.5,263.5 C494,265 491.8,270 491.5,276 C491.3,282 492.5,286.5 494.5,288.5 L500,290 L505,264.8 Z" fill="#fff" stroke-width="1.1"/>
<path d="M507.2,258.4 L509.6,258.6 L510.6,261 L510.2,273.6 C509,280 505,288 503,291.5 L500.3,295.9 L496,295.2 L495.8,291 L496.5,288 C497.5,282 499.5,276 501.5,272 C503,266 505,261.5 507.2,258.4 Z" fill="#fff" stroke-width="1.1"/>
<ellipse cx="505.3" cy="277.2" rx="3.0" ry="8.6" transform="rotate(12 505.3 277.2)" fill="#fff" stroke-width="1.6"/>
<ellipse cx="505.5" cy="277.4" rx="1.6" ry="6.2" transform="rotate(12 505.5 277.4)" fill="none" stroke-width="0.9"/>
<ellipse cx="508.6" cy="260.8" rx="0.9" ry="1.4" transform="rotate(0 508.6 260.8)" fill="#333" stroke-width="0.8"/>
<ellipse cx="498" cy="293" rx="0.9" ry="1.4" transform="rotate(0 498 293)" fill="#333" stroke-width="0.8"/>
<path d="M493.5,283.5 L496,284.5" fill="none" stroke-width="1.3"/>
<line x1="510.8" y1="262.2" x2="519" y2="264" stroke-width="0.8"/>
<line x1="500.5" y1="292.3" x2="511" y2="294.5" stroke-width="0.8"/>
<path d="M533.6,264.9 L529.2,264.0 L528.0,270.3 L532.4,271.1 Z" fill="#777" stroke-width="1.2"/>
<path d="M531.6,264.5 L530.4,270.7" stroke-width="1.4"/>
<path d="M529.4,263.2 L527.8,271.0" stroke-width="1.8"/>
<path d="M528.9,265.5 L521.1,264.0 L520.4,267.1 L528.3,268.7" fill="#fff" stroke-width="0.9"/>
<path d="M524.3,295.2 L519.9,294.3 L518.7,300.6 L523.1,301.4 Z" fill="#777" stroke-width="1.2"/>
<path d="M522.3,294.8 L521.1,301.0" stroke-width="1.4"/>
<path d="M520.1,293.5 L518.5,301.3" stroke-width="1.8"/>
<path d="M519.6,295.8 L512.2,294.4 L511.6,297.5 L519.0,299.0" fill="#fff" stroke-width="0.9"/>
<line x1="529.4" y1="269.3" x2="535.5" y2="316" stroke-width="0.8"/>
<line x1="521.5" y1="300" x2="534.5" y2="316" stroke-width="0.8"/>
<path d="M549.4,238.2 L546.6,239.3 L535.1,288 L535.9,292.2 L540.1,292.2 L550.2,286.5 L554.4,278 L549.4,275 L551.6,240.7 Z" fill="#fff" stroke-width="1.1"/>
<path d="M549.5,243 L538.9,287 M548,240.5 L536.8,288" fill="none" stroke-width="0.8"/>
<ellipse cx="549.6" cy="241.2" rx="0.8" ry="1.1" transform="rotate(0 549.6 241.2)" fill="none" stroke-width="0.8"/>
<ellipse cx="538.5" cy="289.3" rx="0.9" ry="1.2" transform="rotate(0 538.5 289.3)" fill="none" stroke-width="0.8"/>
<path d="M544.5,274 L545.8,270 L545.5,273" fill="none" stroke-width="0.9"/>
<line x1="551.6" y1="244.6" x2="579" y2="250.2" stroke-width="0.8"/>
<line x1="539.5" y1="289" x2="570" y2="294.5" stroke-width="0.8"/>
<path d="M593.1,250.6 L588.7,249.7 L587.5,256.0 L591.9,256.8 Z" fill="#777" stroke-width="1.2"/>
<path d="M591.1,250.2 L589.9,256.4" stroke-width="1.4"/>
<path d="M588.9,248.9 L587.3,256.7" stroke-width="1.8"/>
<path d="M588.4,251.2 L580.6,249.7 L579.9,252.8 L587.8,254.4" fill="#fff" stroke-width="0.9"/>
<path d="M583.1,294.1 L578.7,293.2 L577.5,299.5 L581.9,300.3 Z" fill="#777" stroke-width="1.2"/>
<path d="M581.1,293.7 L579.9,299.9" stroke-width="1.4"/>
<path d="M578.9,292.4 L577.3,300.2" stroke-width="1.8"/>
<path d="M578.4,294.7 L571.0,293.3 L570.4,296.4 L577.8,297.9" fill="#fff" stroke-width="0.9"/>
<line x1="592.5" y1="253.5" x2="596" y2="254.2" stroke-width="0.8"/>
<line x1="582.5" y1="297" x2="586.5" y2="297.7" stroke-width="0.8"/>
<line x1="586.25" y1="256.5" x2="582" y2="266" stroke-width="0.8"/>
<line x1="580" y1="283.5" x2="580" y2="292.5" stroke-width="0.8"/>
<line x1="553" y1="227" x2="549.5" y2="238.5" stroke-width="0.8"/>
</g>
<g id="lever">
<line x1="587.8" y1="92.4" x2="611.7" y2="99.5" stroke-width="0.8"/>
<line x1="570.3" y1="94.4" x2="616.4" y2="105.9" stroke-width="0.8"/>
<line x1="645.9" y1="70.1" x2="657" y2="69.6" stroke-width="0.8"/>
<line x1="661.7" y1="99.8" x2="633.1" y2="115.4" stroke-width="0.8"/>
<line x1="679.2" y1="114.6" x2="649" y2="132.9" stroke-width="0.8"/>
<line x1="552" y1="111.9" x2="567" y2="111.9" stroke-width="0.8"/>
<line x1="552" y1="115.5" x2="565" y2="118" stroke-width="0.8"/>
<line x1="552" y1="118.5" x2="571.7" y2="129.2" stroke-width="0.8"/>
<line x1="628.4" y1="137.6" x2="666.8" y2="148.4" stroke-width="0.8"/>
<line x1="566.7" y1="147.6" x2="579.2" y2="154.3" stroke-width="0.8"/>
<line x1="565" y1="163.4" x2="587.5" y2="166.8" stroke-width="0.8"/>
<line x1="572.5" y1="184.3" x2="581.7" y2="181.8" stroke-width="0.8"/>
<line x1="604.7" y1="161" x2="604.7" y2="186.8" stroke-width="0.8"/>
<line x1="615" y1="170.1" x2="620.1" y2="201.8" stroke-width="0.8"/>
<line x1="673.5" y1="170.1" x2="651" y2="160.1" stroke-width="0.8"/>
<line x1="673.5" y1="170.1" x2="648.5" y2="172.6" stroke-width="0.8"/>
<line x1="635" y1="166.8" x2="636.8" y2="183.5" stroke-width="0.8"/>
<line x1="575.9" y1="112.5" x2="613.4" y2="120.9" stroke-width="0.8"/>
<line x1="573.4" y1="119.2" x2="610" y2="126.7" stroke-width="0.8"/>
<line x1="580" y1="130.9" x2="616.8" y2="139.2" stroke-width="0.8"/>
<path d="M567.5,109.9 L570.1,110.3 L570.1,113.4 L567.5,113.0 Z" fill="#111" stroke-width="0.8"/>
<path d="M570.1,111.8 L576.0,112.92099999999999" fill="none" stroke-width="1.7" stroke="#333"/>
<path d="M565,116.4 L567.6,116.8 L567.6,119.9 L565,119.5 Z" fill="#111" stroke-width="0.8"/>
<path d="M567.6,118.3 L573.5,119.42099999999999" fill="none" stroke-width="1.7" stroke="#333"/>
<path d="M571.7,128.20000000000002 L574.3000000000001,128.60000000000002 L574.3000000000001,131.70000000000002 L571.7,131.3 Z" fill="#111" stroke-width="0.8"/>
<path d="M574.3000000000001,130.10000000000002 L580.2,131.22100000000003" fill="none" stroke-width="1.7" stroke="#333"/>
<path d="M628.4,70.9 C629,67 632,63.9 636.3,63.7 L643,64.2 C645.5,64.8 646.5,67.5 645.9,70.1 C644.5,74 641.5,77.5 637.9,78.8 C634.5,79.5 631.5,78.5 630.2,76.2 C629,74.5 628.3,72.5 628.4,70.9 Z" fill="#fff" stroke-width="1.9"/>
<path d="M631.5,71 C632,68.5 634,66.8 636.8,66.6 L641.5,66.9 C643,67.3 643.5,68.8 643,70.5 C642,73 640,75.2 637.5,76 C635,76.5 633,75.8 632.2,74.3 C631.6,73.2 631.4,72 631.5,71 Z" fill="none" stroke-width="1.0"/>
<path d="M635,69.3 L639.5,68.5 L640,71.3 L636.3,73 Z" fill="none" stroke-width="0.9"/>
<path d="M634.5,79 C630,85 626,93 624.5,99 C623.5,103 623,106 622.8,108" fill="none" stroke-width="5.0" stroke="#1a1a1a"/>
<path d="M634,81 C630,87 627,93 625.3,100" stroke="#ddd" stroke-width="1.1" stroke-dasharray="1.2 1.6" fill="none"/>
<path d="M619,105 L624.5,104.5 L625.5,108.5 L623,110.8 L619.5,109.5 Z" fill="#111" stroke-width="1.0"/>
<path d="M612,98 L615.5,97.2 L617.3,99.5 L616.8,102.3 L613.5,102.8 L611.8,100.5 Z" fill="#111" stroke-width="1.0"/>
<ellipse cx="618.7" cy="105.2" rx="1.6" ry="2.6" transform="rotate(-20 618.7 105.2)" fill="#fff" stroke-width="1.1"/>
<ellipse cx="629.2" cy="115.6" rx="3.0" ry="5.0" transform="rotate(-42 629.2 115.6)" fill="#fff" stroke-width="1.2"/>
<ellipse cx="629.2" cy="115.6" rx="1.4" ry="3.0" transform="rotate(-42 629.2 115.6)" fill="none" stroke-width="0.9"/>
<path d="M631.5,118.5 L633.5,118.4 L633.8,121" fill="none" stroke-width="0.9"/>
<line x1="633.5" y1="118.4" x2="630" y2="160" stroke-width="0.8"/>
<path d="M613.4,120.9 L621.8,120 C625.5,124 628,129 628.4,133.4 L628,140 L621.8,144.2 L616.8,141 C616,137 613,133.5 610,127.5 Z" fill="#fff" stroke-width="1.6"/>
<path d="M615,122 L612.5,127 L617,134 L618,141 M620,121.5 C621,126 622.5,130 623,134 L623.5,142 M616,128 L621,126.5 M617.5,134.5 L626.5,132 M618.5,138 L626,136.5 M624.5,126 L626.5,137" fill="none" stroke-width="1.5"/>
<path d="M618.5,125 L620.5,131.5 L618,132 Z" fill="#222" stroke-width="1.0"/>
<path d="M619.5,141.5 L626,139.5" fill="none" stroke-width="2.2"/>
<path d="M644.5,133.5 L647,132.4 L649.3,134 L649.2,136.8 L646.5,137.8 L644.4,136.2 Z" fill="#111" stroke-width="1.0"/>
<path d="M642.6,133.4 L644.4,133.6 M642.6,133.4 L640,163.4 M648,137.5 L651.5,139.5" fill="none" stroke-width="0.8"/>
<line x1="571.7" y1="154.3" x2="602" y2="159" stroke-width="0.8"/>
<line x1="607" y1="159.8" x2="613" y2="160.7" stroke-width="0.8"/>
<path d="M578.8,154.2 L581.3,153.5 L583.3,155.3 L583,157.8 L580.3,158.5 L578.6,156.8 Z" fill="#222" stroke-width="1.0"/>
<path d="M595.3,153.2 L597.3,154.2 L596.8,158 L587.5,174 L584.5,173 L593.5,157.5 Z" fill="#fff" stroke-width="1.0"/>
<path d="M594.8,155 L596.3,155.8 L596,158.5 L594.3,158 Z" fill="#222" stroke-width="0.8"/>
<path d="M592.5,160.5 L587,171" fill="none" stroke-width="0.8"/>
<path d="M582.3,174 L587.6,175.3 L587.8,183.8 L582.3,182.6 Z" fill="#111" stroke-width="1.0"/>
<path d="M587.3,184 L587.2,188.5 C587.5,190.3 589.3,190.3 589.6,188.8" fill="none" stroke-width="1.0"/>
<ellipse cx="604.7" cy="158.8" rx="1.1" ry="2.3" transform="rotate(0 604.7 158.8)" fill="#fff" stroke-width="1.1"/>
<path d="M616.5,153.8 L618.3,153.4 L619.3,155.5 L618.5,160 L619,166 L616.8,170 L614.6,169.5 L614.8,164.5 L612.6,163.8 L612.8,158.5 L615.3,158 Z" fill="#fff" stroke-width="1.0"/>
<path d="M616.3,162.5 L618,162.3 L618,165.2 L616.3,165.5 Z" fill="#222" stroke-width="0.8"/>
<ellipse cx="616" cy="168.2" rx="0.9" ry="1.2" transform="rotate(0 616 168.2)" fill="#222" stroke-width="0.8"/>
<line x1="618.5" y1="155.3" x2="643.5" y2="158.4" stroke-width="0.8"/>
<line x1="616.8" y1="168.4" x2="640" y2="172.6" stroke-width="0.8"/>
<path d="M621.5,161.2 L624,160.6 L627,162 L631,161.6 L631,165.6 L627,166 L624,165 L621.5,163.4 Z" fill="#222" stroke-width="0.9"/>
<path d="M631,161.2 L638.5,162.2 L638.5,166.6 L631,165.8 Z" fill="#fff" stroke-width="1.0"/>
<path d="M633,161.5 L633,166 M636.3,162 L636.3,166.3" fill="none" stroke-width="0.9"/>
<ellipse cx="639.3" cy="164.6" rx="1.2" ry="2.3" transform="rotate(0 639.3 164.6)" fill="#fff" stroke-width="1.0"/>
<line x1="640.5" y1="164.8" x2="645" y2="165.5" stroke-width="0.8"/>
<path d="M643.8,157 L646,156.5 L647.8,158 L647.6,160.6 L645.3,161.4 L643.6,159.8 Z" fill="#222" stroke-width="0.9"/>
<path d="M647.8,159 L651.2,161" fill="none" stroke-width="1.6"/>
<path d="M639.5,171.2 L641.5,170.8 L643,172.2 L642.8,174.6 L640.8,175.2 L639.3,173.8 Z" fill="#222" stroke-width="0.9"/>
<path d="M643,173 L648.5,173.6" fill="none" stroke-width="1.6"/>
</g>
<g id="shock">
<line x1="673.4" y1="206.4" x2="682" y2="208.1" stroke-width="0.8"/>
<line x1="688.5" y1="209.4" x2="709" y2="213.4" stroke-width="0.8"/>
<line x1="719" y1="215.4" x2="737" y2="218.9" stroke-width="0.8"/>
<line x1="754" y1="222.2" x2="760.2" y2="223.4" stroke-width="0.8"/>
<ellipse cx="685.3" cy="209.6" rx="2.9" ry="3.6" fill="#444" stroke-width="1.2" transform="rotate(8 685.3 209.6)"/>
<ellipse cx="685.9" cy="209.6" rx="1.3" ry="1.8" fill="#ddd" stroke="none"/>
<path d="M755.0,219.0 L750.2,218.0 L748.9,224.7 L753.6,225.6 Z" fill="#777" stroke-width="1.2"/>
<path d="M752.8,218.5 L751.5,225.2" stroke-width="1.4"/>
<path d="M750.4,217.2 L748.8,225.6" stroke-width="1.8"/>
<path d="M749.9,219.7 L738.4,217.5 L737.8,220.8 L749.3,223.0" fill="#fff" stroke-width="0.9"/>
<line x1="736" y1="181" x2="687.5" y2="207.5" stroke-width="0.8"/>
<line x1="796" y1="192.5" x2="752" y2="218" stroke-width="0.8"/>
<line x1="722" y1="237" x2="798" y2="234.5" stroke-width="0.8"/>
<line x1="786.25" y1="291.25" x2="773.75" y2="306.25" stroke-width="0.8"/>
<line x1="666" y1="262.5" x2="677" y2="299" stroke-width="0.8"/>
<path d="M710.5,218 L710.3,211.5 C711,209 717.5,209 718.3,211.5 L718.5,218.5 Z" fill="#fff" stroke-width="1.1"/>
<path d="M713,210.5 L713,217 M716,210.5 L716,217" fill="none" stroke-width="0.8"/>
<path d="M708,219.5 C708,217.3 721,217.3 721.2,219.5 L722.4,252.8 L723.1,267.5 C723,270 710,270 709.7,267.5 L709,252.8 Z" fill="#fff" stroke-width="1.1"/>
<path d="M708,219.5 C708.5,221.8 720.5,221.8 721.2,219.5 M709,252.8 C709.5,255.2 721.8,255.2 722.4,252.8" fill="none" stroke-width="0.9"/>
<ellipse cx="708.8" cy="219" rx="0.8" ry="1" transform="rotate(0 708.8 219)" fill="#222" stroke-width="0.6"/>
<path d="M714.3,269.3 L715,286 M718.8,269.3 L719.2,286" fill="none" stroke-width="0.9"/>
<path d="M712,286 L720.5,286 L720.8,290 L719,291.5 L719.5,296.5 L721.2,298 L721,300.5 L712.2,300.5 L712,298 L713.8,296.5 L713.5,291.5 L711.8,290 Z" fill="#fff" stroke-width="1.1"/>
<path d="M713.5,288 L719,288 M714,293.5 L719,293.5 M713,298.5 L720.5,298.5" fill="none" stroke-width="1.3"/>
<path d="M682.5,310 L691.3,298.8 L696.3,298 L700,301.3 L695,306.3 L701.3,307.5 L706.3,301.3 L713.8,300 L712.5,317.5 L710,323.8 L703.8,327.5 L701.3,325 L701.3,313.8 L684.5,311.2 L683,322.5 L684.5,325 Z" fill="#fff" stroke-width="1.0"/>
<path d="M684.5,311.2 L693,300.5 M701.3,313.8 L706,307.5 L706.3,301.3 M684.5,325 L691.5,317 L691.5,312.3 M686,312.5 L690,313" fill="none" stroke-width="0.8"/>
<path d="M686.5,312.3 L690.5,313" fill="none" stroke-width="1.6"/>
<ellipse cx="708.5" cy="316" rx="0.8" ry="1.2" transform="rotate(0 708.5 316)" fill="none" stroke-width="0.8"/>
<path d="M712.5,317.5 L731.3,320 L742.5,305 L747.5,305.6" fill="none" stroke-width="0.8"/>
<line x1="710" y1="323.75" x2="787.5" y2="332.5" stroke-width="0.8"/>
<path d="M748,303 L773.2,308.2 L772.8,311 L747.5,305.8 Z" fill="#fff" stroke-width="1.0"/>
<ellipse cx="747.7" cy="304.4" rx="0.8" ry="1.5" transform="rotate(0 747.7 304.4)" fill="#fff" stroke-width="0.9"/>
<path d="M772.2,307.5 L774.3,308 L774,311.5 L772,311 Z" fill="#222" stroke-width="0.8"/>
<path d="M676,299 L678.3,299 L678.5,311 L676.2,311 Z" fill="#222" stroke-width="0.8"/>
</g>
<g id="part4">
<line x1="655.7" y1="340" x2="648.2" y2="361.6" stroke-width="0.8"/>
<line x1="678.6" y1="340" x2="670.5" y2="370" stroke-width="0.8"/>
<line x1="680" y1="341.4" x2="679.7" y2="360.5" stroke-width="0.8"/>
<line x1="682" y1="361.6" x2="686" y2="357.6" stroke-width="0.8"/>
<line x1="630" y1="353.5" x2="636" y2="369.7" stroke-width="0.8"/>
<line x1="636" y1="369.7" x2="657" y2="378.5" stroke-width="0.8"/>
<line x1="615" y1="361.25" x2="643.5" y2="392" stroke-width="0.8"/>
<line x1="727.3" y1="353.5" x2="694.2" y2="369" stroke-width="0.8"/>
<line x1="740" y1="374.5" x2="714.5" y2="399.5" stroke-width="0.8"/>
<line x1="636" y1="363" x2="642.5" y2="364.3" stroke-width="0.8"/>
<line x1="661" y1="368.2" x2="666" y2="369.2" stroke-width="0.8"/>
<line x1="673.5" y1="370.7" x2="687" y2="373.4" stroke-width="0.8"/>
<line x1="693" y1="374.6" x2="697.6" y2="375.4" stroke-width="0.8"/>
<path d="M643,360.5 L647.5,360.2 L650,362 L650.3,368.6 L647,369.2 L643.2,368 Z" fill="#fff" stroke-width="1.1"/>
<path d="M645.5,360.6 L645.7,368.8 M648,360.5 L648.2,369" fill="none" stroke-width="0.9"/>
<path d="M650.3,363.3 L658,364.8 L660.4,367 L658,369.3 L650.3,368" fill="#fff" stroke-width="0.9"/>
<path d="M657.5,365 L660.2,367 L657.8,369 Z" fill="#222" stroke-width="0.8"/>
<circle cx="679.7" cy="364.3" r="3.7" fill="#111" stroke-width="0.8"/>
<circle cx="680.0" cy="364.5" r="1.55" fill="#fff" stroke="none"/>
<circle cx="669.6" cy="373.6" r="3.9" fill="#111" stroke-width="0.8"/>
<circle cx="669.9" cy="373.8" r="1.64" fill="#fff" stroke="none"/>
<circle cx="660.8" cy="381.6" r="4.4" fill="#fff" stroke-width="1.1"/>
<circle cx="660.8" cy="381.6" r="2.0" fill="#fff" stroke-width="1.4"/>
<path d="M657,384 L646,394.5 M659.5,385.8 L648,397.5" fill="none" stroke-width="0.9"/>
<path d="M640,394 C641.5,392.3 645.5,392.8 647,394.5 L647.5,400.5 C646.5,402.8 641.5,403 639.5,401 C638.5,399 638.8,396 640,394 Z" fill="#fff" stroke-width="1.1"/>
<path d="M645,393.5 C644,396 644,400 645.3,402" fill="none" stroke-width="0.8"/>
<path d="M687.4,367.7 L692.8,369 L692.8,401 L689.5,413.6 L686,415 L669.2,399.5 L668.5,393.4 L671.9,390 L682.7,389.3 L685.4,386 Z" fill="#fff" stroke-width="1.1"/>
<path d="M690,368.6 L688.8,386.5 L684.8,391.8 M671,399 L673,397 L688,411.5" fill="none" stroke-width="0.8"/>
<ellipse cx="690.8" cy="371.3" rx="0.8" ry="1.3" transform="rotate(0 690.8 371.3)" fill="none" stroke-width="0.8"/>
<ellipse cx="690.8" cy="390" rx="1.0" ry="1.9" transform="rotate(10 690.8 390)" fill="none" stroke-width="0.8"/>
<ellipse cx="674" cy="395.4" rx="0.9" ry="1.3" transform="rotate(0 674 395.4)" fill="none" stroke-width="0.8"/>
<path d="M692.2,402.2 L716.5,407.6 L716.5,408.2 L724.6,410.3 L723.2,418.4 L714,417.2 L713.8,417.7 L689.5,413.6 Z" fill="#fff" stroke-width="1.0"/>
<path d="M716.5,407.6 C715.2,410 715,415 714,417.2" fill="none" stroke-width="0.9"/>
<ellipse cx="690.8" cy="408" rx="1.8" ry="5.5" transform="rotate(8 690.8 408)" fill="#fff" stroke-width="1.0"/>
<path d="M724.3,409.8 L727.5,410.6 C729.5,412 729.3,417 727.3,418.5 L724,418.2 C722.5,416 722.8,411.5 724.3,409.8 Z" fill="#333" stroke-width="0.9"/>
<line x1="674.6" y1="395.4" x2="702" y2="401.4" stroke-width="0.8"/>
<line x1="717.5" y1="404.3" x2="722" y2="405.2" stroke-width="0.8"/>
<path d="M717.9,400.9 L713.2,399.9 L711.8,406.6 L716.5,407.5 Z" fill="#777" stroke-width="1.2"/>
<path d="M715.7,400.4 L714.4,407.1" stroke-width="1.4"/>
<path d="M713.3,399.1 L711.7,407.4" stroke-width="1.8"/>
<path d="M712.8,401.6 L703.3,399.7 L702.6,403.0 L712.2,404.9" fill="#fff" stroke-width="0.9"/>
<circle cx="690.6" cy="423.2" r="3.3" fill="#111" stroke-width="0.8"/>
<circle cx="690.9" cy="423.4" r="1.39" fill="#fff" stroke="none"/>
<line x1="691" y1="417.7" x2="690.8" y2="420" stroke-width="0.8"/>
<line x1="690.4" y1="426.5" x2="688.5" y2="474" stroke-width="0.8"/>
</g>
<g id="rotor">
<path d="M769.6,405.0 L784.0,406.6 C786.0,407.1 786.0,411.1 784.0,411.6 L769.6,410.0 C767.6,409.5 767.6,405.5 769.6,405.0 Z" fill="#fff" stroke-width="1.3"/>
<path d="M770.1,408.7 L784.0,410.3" stroke-width="1.2"/>
<path d="M769.3,405.8 C770.8,406.5 770.8,408.5 769.3,409.2" stroke-width="0.8"/>
<path d="M778.9,423.0 L788.2,424.0 C790.2,424.5 790.2,428.5 788.2,429.0 L778.9,428.0 C776.9,427.5 776.9,423.5 778.9,423.0 Z" fill="#fff" stroke-width="1.3"/>
<path d="M779.4,426.7 L788.2,427.7" stroke-width="1.2"/>
<path d="M778.6,423.8 C780.1,424.5 780.1,426.5 778.6,427.2" stroke-width="0.8"/>
<path d="M776.8,447.0 L786.0,448.0 C788.0,448.5 788.0,452.5 786.0,453.0 L776.8,452.0 C774.8,451.5 774.8,447.5 776.8,447.0 Z" fill="#fff" stroke-width="1.3"/>
<path d="M777.3,450.7 L786.0,451.7" stroke-width="1.2"/>
<path d="M776.5,447.8 C778.0,448.5 778.0,450.5 776.5,451.2" stroke-width="0.8"/>
<path d="M773.7,472.0 L783.0,473.0 C785.0,473.5 785.0,477.5 783.0,478.0 L773.7,477.0 C771.7,476.5 771.7,472.5 773.7,472.0 Z" fill="#fff" stroke-width="1.3"/>
<path d="M774.2,475.7 L783.0,476.7" stroke-width="1.2"/>
<path d="M773.4,472.8 C774.9,473.5 774.9,475.5 773.4,476.2" stroke-width="0.8"/>
<path d="M763.4,490.5 L774.8,491.8 C776.8,492.3 776.8,496.3 774.8,496.8 L763.4,495.5 C761.4,495.0 761.4,491.0 763.4,490.5 Z" fill="#fff" stroke-width="1.3"/>
<path d="M763.9,494.2 L774.8,495.5" stroke-width="1.2"/>
<path d="M763.1,491.3 C764.6,492.0 764.6,494.0 763.1,494.7" stroke-width="0.8"/>
<path d="M779,428 L778.5,449 M783,429 L782.5,450 M777,452 L776,473 M781,453 L780,474" fill="none" stroke-width="1.2"/>
<path d="M760.9,449.5 L766.8,405.5 L769.8,409.9 L763.9,454.5 Z" fill="#fff" stroke-width="1.2"/>
<path d="M762.4,452 L768.0,407.7" fill="none" stroke-width="0.9"/>
<path d="M760.9,449.5 L771.6,439.7 L774.6,444.1 L763.9,454.5 Z" fill="#fff" stroke-width="1.2"/>
<path d="M762.4,452 L772.8,441.9" fill="none" stroke-width="0.9"/>
<path d="M760.9,449.5 L760.8,487.7 L763.8,492.1 L763.9,454.5 Z" fill="#fff" stroke-width="1.2"/>
<path d="M762.4,452 L762.0,489.9" fill="none" stroke-width="0.9"/>
<path d="M760.9,449.5 L744.8,495.3 L747.8,499.7 L763.9,454.5 Z" fill="#fff" stroke-width="1.2"/>
<path d="M762.4,452 L746.0,497.5" fill="none" stroke-width="0.9"/>
<path d="M760.9,449.5 L740.0,461.1 L743.0,465.5 L763.9,454.5 Z" fill="#fff" stroke-width="1.2"/>
<path d="M762.4,452 L741.2,463.3" fill="none" stroke-width="0.9"/>
<path d="M760.9,449.5 L749.2,416.5 L752.2,420.9 L763.9,454.5 Z" fill="#fff" stroke-width="1.2"/>
<path d="M762.4,452 L750.4,418.7" fill="none" stroke-width="0.9"/>
<ellipse cx="759" cy="453.0" rx="15.5" ry="51.5" transform="rotate(7.5 759 453.0)" fill="none" stroke-width="1.4"/>
<ellipse cx="759" cy="453.0" rx="13.02" ry="48.41" transform="rotate(7.5 759 453.0)" fill="none" stroke-width="1.0"/>
<path d="M753.5,502.3 L752.3,503.0 L751.2,503.4 L750.1,503.5 L749.0,503.5 L748.0,503.1 L747.0,502.6 L746.0,501.7 L745.1,500.7 L744.2,499.4 L743.4,497.9 L742.7,496.1 L742.0,494.2 L741.4,492.0 L740.8,489.7 L740.4,487.1 L740.0,484.4 L739.7,481.6 L739.5,478.6 L739.3,475.4 L739.2,472.2 L739.2,468.9 L739.3,465.4 L739.5,462.0 L739.8,458.4 L740.1,454.9 L740.5,451.3 L741.0,447.8 L741.6,444.2 L742.2,440.7 L742.9,437.3 L743.7,433.9 L744.5,430.6 L745.4,427.5 L746.3,424.4 L747.3,421.5 L748.3,418.7 L749.3,416.1 L750.4,413.7 L751.6,411.5 L752.7,409.5 L753.8,407.6 L755.0,406.0 L756.2,404.7 L757.4,403.5 L758.5,402.6 L759.7,401.9 L760.8,401.5 L761.9,401.4 L763.0,401.4 L764.0,401.8 L765.0,402.3 L766.0,403.2" fill="none" stroke-width="0.9"/>
<path d="M750.5,501.8 L749.3,502.5 L748.2,502.9 L747.1,503.1 L746.0,503.0 L745.0,502.7 L744.0,502.1 L743.0,501.3 L742.1,500.2 L741.2,498.9 L740.4,497.4 L739.7,495.7 L739.0,493.7 L738.4,491.6 L737.8,489.2 L737.4,486.7 L737.0,484.0 L736.7,481.1 L736.5,478.1 L736.3,475.0 L736.2,471.7 L736.2,468.4 L736.3,465.0 L736.5,461.5 L736.8,458.0 L737.1,454.4 L737.5,450.9 L738.0,447.3 L738.6,443.8 L739.2,440.3 L739.9,436.8 L740.7,433.5 L741.5,430.2 L742.4,427.0 L743.3,424.0 L744.3,421.1 L745.3,418.3 L746.3,415.7 L747.4,413.3 L748.6,411.0 L749.7,409.0 L750.8,407.2 L752.0,405.6 L753.2,404.2 L754.4,403.1 L755.5,402.2 L756.7,401.5 L757.8,401.1 L758.9,400.9 L760.0,401.0 L761.0,401.3 L762.0,401.9 L763.0,402.7" fill="none" stroke-width="1.1"/>
<path d="M747.5,501.4 L746.3,502.1 L745.2,502.5 L744.1,502.6 L743.0,502.6 L742.0,502.2 L741.0,501.7 L740.0,500.8 L739.1,499.8 L738.2,498.5 L737.4,497.0 L736.7,495.2 L736.0,493.3 L735.4,491.1 L734.8,488.8 L734.4,486.2 L734.0,483.5 L733.7,480.7 L733.5,477.7 L733.3,474.5 L733.2,471.3 L733.2,468.0 L733.3,464.5 L733.5,461.1 L733.8,457.5 L734.1,454.0 L734.5,450.4 L735.0,446.9 L735.6,443.3 L736.2,439.8 L736.9,436.4 L737.7,433.0 L738.5,429.7 L739.4,426.6 L740.3,423.5 L741.3,420.6 L742.3,417.8 L743.3,415.2 L744.4,412.8 L745.6,410.6 L746.7,408.6 L747.8,406.7 L749.0,405.1 L750.2,403.8 L751.4,402.6 L752.5,401.7 L753.7,401.0 L754.8,400.6 L755.9,400.5 L757.0,400.5 L758.0,400.9 L759.0,401.4 L760.0,402.3" fill="none" stroke-width="0.9"/>
<path d="M744.5,500.9 L743.3,501.6 L742.2,502.0 L741.1,502.2 L740.0,502.1 L739.0,501.8 L738.0,501.2 L737.0,500.4 L736.1,499.3 L735.2,498.0 L734.4,496.5 L733.7,494.8 L733.0,492.8 L732.4,490.7 L731.8,488.3 L731.4,485.8 L731.0,483.1 L730.7,480.2 L730.5,477.2 L730.3,474.1 L730.2,470.8 L730.2,467.5 L730.3,464.1 L730.5,460.6 L730.8,457.1 L731.1,453.5 L731.5,450.0 L732.0,446.4 L732.6,442.9 L733.2,439.4 L733.9,435.9 L734.7,432.6 L735.5,429.3 L736.4,426.1 L737.3,423.1 L738.3,420.2 L739.3,417.4 L740.3,414.8 L741.4,412.4 L742.6,410.1 L743.7,408.1 L744.8,406.3 L746.0,404.7 L747.2,403.3 L748.4,402.2 L749.5,401.3 L750.7,400.6 L751.8,400.2 L752.9,400.0 L754.0,400.1 L755.0,400.4 L756.0,401.0 L757.0,401.8" fill="none" stroke-width="1.5"/>
<ellipse cx="762.4" cy="452" rx="4.5" ry="9" transform="rotate(8 762.4 452)" fill="#fff" stroke-width="1.5"/>
<ellipse cx="762.9" cy="452" rx="2.4" ry="5" transform="rotate(8 762.9 452)" fill="#fff" stroke-width="1.3"/>
<ellipse cx="763.1999999999999" cy="452" rx="1.0" ry="2.0" transform="rotate(8 763.1999999999999 452)" fill="#222" stroke-width="0.8"/>
<path d="M758.4,449 L754.4,451 L758.4,456" fill="none" stroke-width="1.2"/>
<path d="M751.0,396.9 L773.7,399.4 C775.7,399.9 775.7,404.5 773.7,405.0 L751.0,402.5 C749.0,402.0 749.0,397.4 751.0,396.9 Z" fill="#fff" stroke-width="1.3"/>
<path d="M751.5,401.2 L773.7,403.7" stroke-width="1.2"/>
<path d="M750.7,397.7 C752.2,398.4 752.2,401.0 750.7,401.7" stroke-width="0.8"/>
<path d="M741.7,406.5 L758.2,408.3 C760.2,408.8 760.2,413.4 758.2,413.9 L741.7,412.1 C739.7,411.6 739.7,407.0 741.7,406.5 Z" fill="#fff" stroke-width="1.3"/>
<path d="M742.2,410.8 L758.2,412.6" stroke-width="1.2"/>
<path d="M741.4,407.3 C742.9,408.0 742.9,410.6 741.4,411.3" stroke-width="0.8"/>
<path d="M732.4,427.2 L756.2,429.8 C758.2,430.3 758.2,434.9 756.2,435.4 L732.4,432.8 C730.4,432.3 730.4,427.7 732.4,427.2 Z" fill="#fff" stroke-width="1.3"/>
<path d="M732.9,431.5 L756.2,434.1" stroke-width="1.2"/>
<path d="M732.1,428.0 C733.6,428.7 733.6,431.3 732.1,432.0" stroke-width="0.8"/>
<path d="M726.2,453.2 L752.0,456.0 C754.0,456.5 754.0,461.1 752.0,461.6 L726.2,458.8 C724.2,458.3 724.2,453.7 726.2,453.2 Z" fill="#fff" stroke-width="1.3"/>
<path d="M726.7,457.5 L752.0,460.3" stroke-width="1.2"/>
<path d="M725.9,454.0 C727.4,454.7 727.4,457.3 725.9,458.0" stroke-width="0.8"/>
<path d="M725.2,477.2 L751.0,480.0 C753.0,480.5 753.0,485.1 751.0,485.6 L725.2,482.8 C723.2,482.3 723.2,477.7 725.2,477.2 Z" fill="#fff" stroke-width="1.3"/>
<path d="M725.7,481.5 L751.0,484.3" stroke-width="1.2"/>
<path d="M724.9,478.0 C726.4,478.7 726.4,481.3 724.9,482.0" stroke-width="0.8"/>
<path d="M729.3,493.7 L743.8,495.3 C745.8,495.8 745.8,500.4 743.8,500.9 L729.3,499.3 C727.3,498.8 727.3,494.2 729.3,493.7 Z" fill="#fff" stroke-width="1.3"/>
<path d="M729.8,498.0 L743.8,499.6" stroke-width="1.2"/>
<path d="M729.0,494.5 C730.5,495.2 730.5,497.8 729.0,498.5" stroke-width="0.8"/>
<path d="M737.6,500.4 L763.4,503.2 C765.4,503.7 765.4,508.3 763.4,508.8 L737.6,506.0 C735.6,505.5 735.6,500.9 737.6,500.4 Z" fill="#fff" stroke-width="1.3"/>
<path d="M738.1,504.7 L763.4,507.5" stroke-width="1.2"/>
<path d="M737.3,501.2 C738.8,501.9 738.8,504.5 737.3,505.2" stroke-width="0.8"/>
<line x1="748.8" y1="508.5" x2="752.3" y2="521.6" stroke-width="0.8"/>
</g>
<g id="wheel17">
<ellipse cx="795" cy="429.3" rx="15" ry="42.3" transform="rotate(12.5 795 429.3)" fill="#fff" stroke-width="1.4"/>
<ellipse cx="796.8" cy="428.3" rx="14.6" ry="41.3" transform="rotate(12.5 796.8 428.3)" fill="#fff" stroke-width="0.9"/>
<ellipse cx="799.8" cy="426.2" rx="13.3" ry="39.6" transform="rotate(12.5 799.8 426.2)" fill="#fff" stroke-width="2.3"/>
<ellipse cx="799.5999999999999" cy="426.5" rx="11.438" ry="35.64" transform="rotate(12.5 799.5999999999999 426.5)" fill="none" stroke-width="1.1"/>
<ellipse cx="799.4" cy="426.7" rx="10.108" ry="32.472" transform="rotate(12.5 799.4 426.7)" fill="none" stroke-width="1.0"/>
<path d="M801.1,434.5L807.9,434.4M801.1,434.5L806.4,439.2M799.4,438.5L801.2,451.0M799.4,438.5L799.3,454.0M797.3,440.2L793.8,458.4M797.3,440.2L792.2,458.4M795.7,439.0L788.6,453.7M795.7,439.0L787.8,450.6M795.3,435.3L787.4,438.6M795.3,435.3L787.9,433.8M796.1,430.5L790.9,419.0M796.1,430.5L792.4,414.2M797.8,426.5L797.6,402.4M797.8,426.5L799.5,399.4M799.9,424.8L805.0,395.0M799.9,424.8L806.6,395.0M801.5,426.0L810.2,399.7M801.5,426.0L811.0,402.8M801.9,429.7L811.4,414.8M801.9,429.7L810.9,419.6" fill="none" stroke-width="1.1"/>
<ellipse cx="798.6" cy="432.5" rx="5.054" ry="11.88" transform="rotate(12.5 798.6 432.5)" fill="#fff" stroke-width="1.3"/>
<ellipse cx="798.6" cy="432.5" rx="2.926" ry="6.336" transform="rotate(12.5 798.6 432.5)" fill="#fff" stroke-width="1.4"/>
<ellipse cx="798.9" cy="432.5" rx="1.33" ry="2.7720000000000002" transform="rotate(12.5 798.9 432.5)" fill="#222" stroke-width="0.8"/>
<path d="M800.6,435.7L802.0,438.4M797.5,438.7L796.5,444.1M795.5,435.5L793.1,438.3M796.6,429.3L795.2,426.6M799.7,426.3L800.7,420.9M801.7,429.5L804.1,426.7" fill="none" stroke-width="1.3"/>
<line x1="815.4" y1="368.1" x2="803.8" y2="384.8" stroke-width="0.8"/>
</g>
<g id="right">
<line x1="811" y1="430.5" x2="828" y2="434" stroke-width="0.8"/>
<line x1="836" y1="435.6" x2="861" y2="440.6" stroke-width="0.8"/>
<line x1="866" y1="441.6" x2="877" y2="443.8" stroke-width="0.8"/>
<line x1="785" y1="458" x2="806" y2="462.5" stroke-width="0.8"/>
<line x1="815" y1="464.4" x2="848" y2="471.2" stroke-width="0.8"/>
<line x1="861" y1="473.8" x2="869" y2="475.5" stroke-width="0.8"/>
<ellipse cx="835.5" cy="436" rx="3.6" ry="8.8" transform="rotate(10 835.5 436)" fill="#fff" stroke-width="1.1"/>
<ellipse cx="835.7" cy="436.2" rx="1.0" ry="2.4" transform="rotate(10 835.7 436.2)" fill="#fff" stroke-width="1.0"/>
<ellipse cx="864" cy="440.5" rx="2.2" ry="6.0" transform="rotate(10 864 440.5)" fill="#fff" stroke-width="1.4"/>
<ellipse cx="864.2" cy="440.6" rx="0.8" ry="2.6" transform="rotate(10 864.2 440.6)" fill="#fff" stroke-width="0.9"/>
<ellipse cx="811.3" cy="463.5" rx="3.8" ry="9.2" transform="rotate(10 811.3 463.5)" fill="#fff" stroke-width="1.1"/>
<ellipse cx="811.5" cy="463.7" rx="1.0" ry="2.4" transform="rotate(10 811.5 463.7)" fill="#fff" stroke-width="1.0"/>
<path d="M862.7,470.7 L858.0,469.7 L856.6,476.4 L861.3,477.3 Z" fill="#777" stroke-width="1.2"/>
<path d="M860.5,470.2 L859.2,476.9" stroke-width="1.4"/>
<path d="M858.1,468.9 L856.5,477.2" stroke-width="1.8"/>
<path d="M857.6,471.4 L848.6,469.6 L847.9,472.9 L857.0,474.7" fill="#fff" stroke-width="0.9"/>
<line x1="862" y1="379.5" x2="836.5" y2="428" stroke-width="0.8"/>
<line x1="896.5" y1="382.5" x2="865" y2="435" stroke-width="0.8"/>
<line x1="934.8" y1="381" x2="935" y2="410" stroke-width="0.8"/>
<line x1="809" y1="472.5" x2="800" y2="524" stroke-width="0.8"/>
<line x1="857.5" y1="478" x2="833" y2="525" stroke-width="0.8"/>
<path d="M935,410.5 L899,425 C884,440 874,470 871,500 C870,515 874,529 885,535 L927.5,543.8 C929.5,544.5 931.5,544 933,542.5 L975,503.8 C985,490 992,470 993.8,445 C994.5,432 993,424 988.5,421 L983.8,419.5 Z" fill="#fff" stroke-width="1.0"/>
<path d="M899,425 L947.5,434.5 L983.8,419.5 M947.5,434.5 L988.5,421.3" fill="none" stroke-width="0.9"/>
<path d="M947.5,434.5 C936,448 925,468 920.5,488 C917.5,505 918,528 926,543" fill="none" stroke-width="1.2"/>
<path d="M948.3,436.5 C946.5,446 944,462 938,475 C934,484 930,490 927.5,494.5" fill="none" stroke-width="0.9"/>
<path d="M927.5,494.5 L973.8,503.2 M922,497 L927.5,494.5 M973.8,503.2 L932.5,541.5 M921,536 L934,538.8" fill="none" stroke-width="0.9"/>
</g>
<g id="p31">
<line x1="675.2" y1="455.5" x2="645" y2="497" stroke-width="0.8"/>
<line x1="705" y1="438" x2="727" y2="518" stroke-width="0.8"/>
<line x1="709" y1="438.5" x2="729" y2="518" stroke-width="0.8"/>
<line x1="694.5" y1="449.5" x2="713.5" y2="555" stroke-width="0.8"/>
<line x1="679.5" y1="484.5" x2="652" y2="518" stroke-width="0.8"/>
<line x1="686" y1="529.5" x2="656" y2="549" stroke-width="0.8"/>
<path d="M661.3,427.7 L671.2,418.7 L673,420.5 L671,427 L670.2,435.6 L679.2,450 L693,448.5 L697,450.5 L687.1,457.5 L675.2,453.5 L663.3,437.6 Z" fill="#fff" stroke-width="1.0"/>
<path d="M663.8,428 L665.5,437 L677,452 M687.1,457.5 L689.5,452.5 L693,448.5" fill="none" stroke-width="0.8"/>
<ellipse cx="666.8" cy="426.5" rx="0.8" ry="1.2" transform="rotate(0 666.8 426.5)" fill="none" stroke-width="0.8"/>
<ellipse cx="666.2" cy="432.8" rx="0.8" ry="1.2" transform="rotate(0 666.2 432.8)" fill="none" stroke-width="0.8"/>
<ellipse cx="690" cy="453.3" rx="1.4" ry="0.9" transform="rotate(0 690 453.3)" fill="none" stroke-width="0.8"/>
<path d="M695,430 L712,433.2 M699,434.5 L712,437" fill="none" stroke-width="0.8"/>
<path d="M696,428.8 L700.5,429.2 L702,431.5 L700.5,434.8 L696.5,435.8 L695,433 Z" fill="#888" stroke-width="1.2"/>
<path d="M704,430 L708,430.2 L710.5,432 L711,436.5 L707.5,438.6 L703.5,437.5 L702.5,434 Z" fill="#888" stroke-width="1.2"/>
<path d="M705.5,430.5 L706,438 M708,430.8 L708.7,437.8 M698,429 L698.3,435.3" fill="none" stroke-width="1.0"/>
<path d="M711,432.5 L716,433.5 L716,436 L711,435.5" fill="#fff" stroke-width="0.9"/>
<path d="M680.3,477.5 L688.5,473.4 L697,475.5 L697,484 L688,493.5 L683.5,495 L679.5,493 L679.3,480 Z" fill="#fff" stroke-width="1.3"/>
<path d="M680.3,477.5 L688.5,473.4 L697,475.5 L688.3,480 Z" fill="#222" stroke-width="1.0"/>
<path d="M680.3,477.5 L688.3,480 L688,493.5 L683.5,495 L679.5,493 L679.3,480 Z" fill="#333" stroke-width="1.0"/>
<path d="M682,482.5 L686.5,483.8 L686.5,488.5 L682,487.2 Z" fill="#fff" stroke-width="0.6"/>
<path d="M684,476.3 L687,475.2 L689.5,476 M690.5,477.3 L693,476.2" fill="none" stroke-width="1.1" stroke="#fff"/>
<path d="M681,490.5 L686,492 " fill="none" stroke-width="0.9" stroke="#ddd"/>
<path d="M689.5,482 L695.5,478.5 M689.5,488.5 L696,482" fill="none" stroke-width="0.9"/>
<line x1="688.2" y1="495" x2="687.5" y2="507" stroke-width="0.8"/>
<path d="M686,507 L689.2,507 L689,520.5 L686.2,520.5 Z" fill="#fff" stroke-width="0.9"/>
<path d="M687.6,507.5 L687.6,520" fill="none" stroke-width="0.8" stroke="#777"/>
<path d="M684.8,521 L690.6,521 L690.2,524.2 L685.2,524.2 Z" fill="#222" stroke-width="0.9"/>
<line x1="687.7" y1="524.5" x2="687.7" y2="529" stroke-width="0.9"/>
</g>
</svg>
</body></html>
